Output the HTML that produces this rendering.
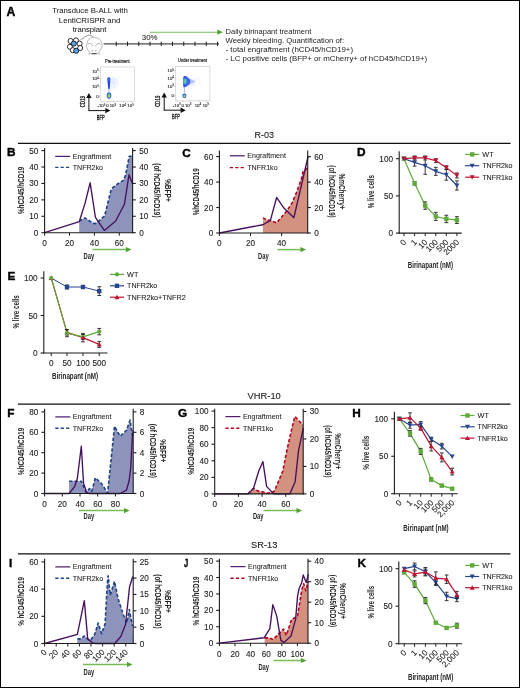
<!DOCTYPE html>
<html><head><meta charset="utf-8"><title>Figure</title>
<style>
html,body{margin:0;padding:0;background:#fff;}
body{width:520px;height:688px;overflow:hidden;}
svg{display:block;font-family:"Liberation Sans", sans-serif;will-change:transform;filter:blur(0.3px);}
</style></head>
<body>
<svg width="520" height="688" viewBox="0 0 520 688">
<rect x="0.5" y="0.5" width="519" height="687" fill="#fff" stroke="#000" stroke-width="1"/>
<text x="6.6" y="15.9" font-size="12.2" fill="#000" stroke="#000" stroke-width="0.4" font-weight="bold">A</text>
<text x="90" y="13" font-size="8" fill="#1c1c1c" stroke="#1c1c1c" stroke-width="0.05" text-anchor="middle" textLength="75.6" lengthAdjust="spacingAndGlyphs">Transduce B-ALL with</text>
<text x="89.6" y="22.7" font-size="8" fill="#1c1c1c" stroke="#1c1c1c" stroke-width="0.05" text-anchor="middle" textLength="61.5" lengthAdjust="spacingAndGlyphs">LentiCRISPR and</text>
<text x="89.6" y="31.8" font-size="8" fill="#1c1c1c" stroke="#1c1c1c" stroke-width="0.05" text-anchor="middle" textLength="33.8" lengthAdjust="spacingAndGlyphs">transplant</text>
<circle cx="70.6" cy="41" r="2.55" fill="#fff" stroke="#111" stroke-width="0.85"/>
<circle cx="76" cy="40.4" r="2.55" fill="#fff" stroke="#111" stroke-width="0.85"/>
<circle cx="79.6" cy="43.6" r="2.55" fill="#fff" stroke="#111" stroke-width="0.85"/>
<circle cx="69.9" cy="46.8" r="2.55" fill="#fff" stroke="#111" stroke-width="0.85"/>
<circle cx="80.2" cy="48" r="2.55" fill="#fff" stroke="#111" stroke-width="0.85"/>
<circle cx="72.8" cy="50.2" r="2.55" fill="#fff" stroke="#111" stroke-width="0.85"/>
<circle cx="73.8" cy="43.6" r="2.55" fill="#5aa0ea" stroke="#111" stroke-width="0.85"/>
<circle cx="76.2" cy="50.8" r="2.55" fill="#5aa0ea" stroke="#111" stroke-width="0.85"/>
<path d="M80.5,39.6 C83.2,39.2 85.2,35.6 88.6,35.2 C90.6,35.0 92.0,35.7 93.4,37.4" fill="none" stroke="#777" stroke-width="0.8"/>
<path d="M91.5,54 C89.6,53 88.1,51 87.3,48.6 C86.2,47.8 86.0,45 87.0,43.5 C87.5,39.5 90.5,37.2 94.2,37.2 C98,37.2 101,39.5 101.5,43 C102.5,44.5 102.3,47.5 101.2,48.6 C100.4,51 98.8,53 97,54 Z" fill="#fff" stroke="#8a8a8a" stroke-width="0.6"/>
<path d="M87.6,44.6 Q90.2,41.4 93,46.4" fill="none" stroke="#a8a8a8" stroke-width="0.9"/>
<path d="M95.3,46.4 Q98.2,41.4 100.6,44.6" fill="none" stroke="#a8a8a8" stroke-width="0.9"/>
<circle cx="92.3" cy="50.7" r="0.55" fill="#555"/><circle cx="95.9" cy="50.7" r="0.55" fill="#555"/>
<path d="M91.8,53.6 L96.6,53.6" stroke="#333" stroke-width="0.9"/>
<path d="M89.6,53 L89,55 M98.8,53 L99.4,55" stroke="#bbb" stroke-width="1.1"/>
<line x1="103.6" y1="43.8" x2="219" y2="43.8" stroke="#4a4a4a" stroke-width="1.3"/>
<line x1="116.25" y1="41.6" x2="116.25" y2="46" stroke="#222" stroke-width="1"/>
<line x1="127.5" y1="41.6" x2="127.5" y2="46" stroke="#222" stroke-width="1"/>
<line x1="138.75" y1="41.6" x2="138.75" y2="46" stroke="#222" stroke-width="1"/>
<line x1="150" y1="41.6" x2="150" y2="46" stroke="#222" stroke-width="1"/>
<line x1="161.25" y1="41.6" x2="161.25" y2="46" stroke="#222" stroke-width="1"/>
<line x1="172.5" y1="41.6" x2="172.5" y2="46" stroke="#222" stroke-width="1"/>
<line x1="183.75" y1="41.6" x2="183.75" y2="46" stroke="#222" stroke-width="1"/>
<line x1="195" y1="41.6" x2="195" y2="46" stroke="#222" stroke-width="1"/>
<line x1="206.25" y1="41.6" x2="206.25" y2="46" stroke="#222" stroke-width="1"/>
<line x1="217.5" y1="41.6" x2="217.5" y2="46" stroke="#222" stroke-width="1"/>
<line x1="150" y1="32.2" x2="218.8" y2="32.2" stroke="#78bd58" stroke-width="1.1"/>
<polygon points="217.3,29.6 222.8,32.2 217.3,34.8" fill="#519f30" stroke="none"/>
<text x="149.7" y="40.3" font-size="7.9" fill="#1c1c1c" stroke="#1c1c1c" stroke-width="0.05" text-anchor="middle" textLength="15.8" lengthAdjust="spacingAndGlyphs">30%</text>
<text x="225.5" y="34" font-size="7.6" fill="#1c1c1c" textLength="85.8" lengthAdjust="spacingAndGlyphs">Daily birinapant treatment</text>
<text x="225.5" y="42.7" font-size="7.6" fill="#1c1c1c" textLength="118.6" lengthAdjust="spacingAndGlyphs">Weekly bleeding. Quantification of:</text>
<text x="225.5" y="51.7" font-size="7.6" fill="#1c1c1c" textLength="127.6" lengthAdjust="spacingAndGlyphs">- total engraftment (hCD45/hCD19+)</text>
<text x="225.5" y="60.9" font-size="7.6" fill="#1c1c1c" textLength="201.7" lengthAdjust="spacingAndGlyphs">- LC positive cells (BFP+ or mCherry+ of hCD45/hCD19+)</text>
<rect x="100.3" y="67" width="34.3" height="34.2" fill="#fff" stroke="#cfcfcf" stroke-width="0.7"/>
<text x="117.3" y="62.5" font-size="4.5" fill="#111" stroke="#111" stroke-width="0.15" text-anchor="middle" textLength="24.6" lengthAdjust="spacingAndGlyphs">Pre-treatment</text>
<line x1="99" y1="71" x2="100.3" y2="71" stroke="#777" stroke-width="0.4"/>
<text x="98.7" y="72.6" font-size="4.3" fill="#111" stroke="#111" stroke-width="0.08" text-anchor="end">10<tspan font-size="3.0" dy="-1.6">5</tspan></text>
<line x1="99" y1="78.6" x2="100.3" y2="78.6" stroke="#777" stroke-width="0.4"/>
<text x="98.7" y="80.2" font-size="4.3" fill="#111" stroke="#111" stroke-width="0.08" text-anchor="end">10<tspan font-size="3.0" dy="-1.6">4</tspan></text>
<line x1="99" y1="86.8" x2="100.3" y2="86.8" stroke="#777" stroke-width="0.4"/>
<text x="98.7" y="88.4" font-size="4.3" fill="#111" stroke="#111" stroke-width="0.08" text-anchor="end">10<tspan font-size="3.0" dy="-1.6">3</tspan></text>
<line x1="99" y1="96.2" x2="100.3" y2="96.2" stroke="#777" stroke-width="0.4"/>
<text x="98.7" y="97.8" font-size="4.3" fill="#111" stroke="#111" stroke-width="0.08" text-anchor="end">0</text>
<line x1="102" y1="101.2" x2="102" y2="102.4" stroke="#777" stroke-width="0.4"/>
<text x="101.5" y="107.4" font-size="4.3" fill="#111" stroke="#111" stroke-width="0.08" text-anchor="middle">-10<tspan font-size="3.0" dy="-1.6">3</tspan></text>
<line x1="107.8" y1="101.2" x2="107.8" y2="102.4" stroke="#777" stroke-width="0.4"/>
<text x="107.5" y="107.4" font-size="4.3" fill="#111" stroke="#111" stroke-width="0.08" text-anchor="middle">0</text>
<line x1="113.6" y1="101.2" x2="113.6" y2="102.4" stroke="#777" stroke-width="0.4"/>
<text x="112.9" y="107.4" font-size="4.3" fill="#111" stroke="#111" stroke-width="0.08" text-anchor="middle">10<tspan font-size="3.0" dy="-1.6">3</tspan></text>
<line x1="123.7" y1="101.2" x2="123.7" y2="102.4" stroke="#777" stroke-width="0.4"/>
<text x="122.6" y="107.4" font-size="4.3" fill="#111" stroke="#111" stroke-width="0.08" text-anchor="middle">10<tspan font-size="3.0" dy="-1.6">4</tspan></text>
<line x1="131.3" y1="101.2" x2="131.3" y2="102.4" stroke="#777" stroke-width="0.4"/>
<text x="130.6" y="107.4" font-size="4.3" fill="#111" stroke="#111" stroke-width="0.08" text-anchor="middle">10<tspan font-size="3.0" dy="-1.6">5</tspan></text>
<line x1="88.9" y1="110.6" x2="88.9" y2="96.5" stroke="#111" stroke-width="1"/>
<polygon points="86.2,98 88.9,93 91.6,98" fill="#111" stroke="none"/>
<line x1="88.4" y1="110.6" x2="105.8" y2="110.6" stroke="#111" stroke-width="1"/>
<polygon points="105.3,107.9 110.5,110.6 105.3,113.3" fill="#111" stroke="none"/>
<text transform="translate(84.9,101.6) rotate(-90)" font-size="6.4" fill="#111" stroke="#111" stroke-width="0.3" text-anchor="middle" textLength="11.2" lengthAdjust="spacingAndGlyphs">CD19</text>
<text x="100.7" y="119.6" font-size="6.4" fill="#111" stroke="#111" stroke-width="0.3" text-anchor="middle" textLength="7.8" lengthAdjust="spacingAndGlyphs">BFP</text>
<rect x="175.6" y="66.6" width="34.3" height="34.2" fill="#fff" stroke="#cfcfcf" stroke-width="0.7"/>
<text x="192.6" y="62.1" font-size="4.5" fill="#111" stroke="#111" stroke-width="0.15" text-anchor="middle" textLength="29" lengthAdjust="spacingAndGlyphs">Under treatment</text>
<line x1="174.3" y1="70.6" x2="175.6" y2="70.6" stroke="#777" stroke-width="0.4"/>
<text x="174" y="72.2" font-size="4.3" fill="#111" stroke="#111" stroke-width="0.08" text-anchor="end">10<tspan font-size="3.0" dy="-1.6">5</tspan></text>
<line x1="174.3" y1="78.2" x2="175.6" y2="78.2" stroke="#777" stroke-width="0.4"/>
<text x="174" y="79.8" font-size="4.3" fill="#111" stroke="#111" stroke-width="0.08" text-anchor="end">10<tspan font-size="3.0" dy="-1.6">4</tspan></text>
<line x1="174.3" y1="86.4" x2="175.6" y2="86.4" stroke="#777" stroke-width="0.4"/>
<text x="174" y="88" font-size="4.3" fill="#111" stroke="#111" stroke-width="0.08" text-anchor="end">10<tspan font-size="3.0" dy="-1.6">3</tspan></text>
<line x1="174.3" y1="95.8" x2="175.6" y2="95.8" stroke="#777" stroke-width="0.4"/>
<text x="174" y="97.4" font-size="4.3" fill="#111" stroke="#111" stroke-width="0.08" text-anchor="end">0</text>
<line x1="177.3" y1="100.8" x2="177.3" y2="102" stroke="#777" stroke-width="0.4"/>
<text x="176.8" y="107" font-size="4.3" fill="#111" stroke="#111" stroke-width="0.08" text-anchor="middle">-10<tspan font-size="3.0" dy="-1.6">3</tspan></text>
<line x1="183.1" y1="100.8" x2="183.1" y2="102" stroke="#777" stroke-width="0.4"/>
<text x="182.8" y="107" font-size="4.3" fill="#111" stroke="#111" stroke-width="0.08" text-anchor="middle">0</text>
<line x1="188.9" y1="100.8" x2="188.9" y2="102" stroke="#777" stroke-width="0.4"/>
<text x="188.2" y="107" font-size="4.3" fill="#111" stroke="#111" stroke-width="0.08" text-anchor="middle">10<tspan font-size="3.0" dy="-1.6">3</tspan></text>
<line x1="199" y1="100.8" x2="199" y2="102" stroke="#777" stroke-width="0.4"/>
<text x="197.9" y="107" font-size="4.3" fill="#111" stroke="#111" stroke-width="0.08" text-anchor="middle">10<tspan font-size="3.0" dy="-1.6">4</tspan></text>
<line x1="206.6" y1="100.8" x2="206.6" y2="102" stroke="#777" stroke-width="0.4"/>
<text x="205.9" y="107" font-size="4.3" fill="#111" stroke="#111" stroke-width="0.08" text-anchor="middle">10<tspan font-size="3.0" dy="-1.6">5</tspan></text>
<line x1="164.2" y1="110.2" x2="164.2" y2="96.1" stroke="#111" stroke-width="1"/>
<polygon points="161.5,97.6 164.2,92.6 166.9,97.6" fill="#111" stroke="none"/>
<line x1="163.7" y1="110.2" x2="181.1" y2="110.2" stroke="#111" stroke-width="1"/>
<polygon points="180.6,107.5 185.8,110.2 180.6,112.9" fill="#111" stroke="none"/>
<text transform="translate(160.2,101.2) rotate(-90)" font-size="6.4" fill="#111" stroke="#111" stroke-width="0.3" text-anchor="middle" textLength="11.2" lengthAdjust="spacingAndGlyphs">CD19</text>
<text x="176" y="119.2" font-size="6.4" fill="#111" stroke="#111" stroke-width="0.3" text-anchor="middle" textLength="7.8" lengthAdjust="spacingAndGlyphs">BFP</text>
<defs><radialGradient id="gB"><stop offset="0" stop-color="#2f5cff"/><stop offset="0.55" stop-color="#3d66ff" stop-opacity="0.85"/><stop offset="1" stop-color="#5b7dff" stop-opacity="0"/></radialGradient><radialGradient id="gS"><stop offset="0" stop-color="#8ea4ff" stop-opacity="0.55"/><stop offset="1" stop-color="#c8d4ff" stop-opacity="0"/></radialGradient><radialGradient id="gY"><stop offset="0" stop-color="#e8d820"/><stop offset="0.35" stop-color="#7cd060"/><stop offset="0.7" stop-color="#2f8cc8" stop-opacity="0.9"/><stop offset="1" stop-color="#3050ff" stop-opacity="0"/></radialGradient><radialGradient id="gG2"><stop offset="0" stop-color="#8ee070"/><stop offset="0.45" stop-color="#4ec0a0"/><stop offset="1" stop-color="#3b66ff" stop-opacity="0"/></radialGradient><filter id="bl" x="-50%" y="-50%" width="200%" height="200%"><feGaussianBlur stdDeviation="0.5"/></filter></defs>
<g filter="url(#bl)">
<circle cx="114.32" cy="87.23" r="0.45" fill="#5a78ff" opacity="0.18"/>
<circle cx="110.88" cy="86.33" r="0.45" fill="#5a78ff" opacity="0.18"/>
<circle cx="113.32" cy="82.31" r="0.45" fill="#5a78ff" opacity="0.18"/>
<circle cx="119.72" cy="83.47" r="0.45" fill="#5a78ff" opacity="0.18"/>
<circle cx="113.86" cy="85.35" r="0.45" fill="#5a78ff" opacity="0.18"/>
<circle cx="117.83" cy="82.89" r="0.45" fill="#5a78ff" opacity="0.18"/>
<circle cx="116" cy="79.69" r="0.45" fill="#5a78ff" opacity="0.18"/>
<circle cx="112.89" cy="81.68" r="0.45" fill="#5a78ff" opacity="0.18"/>
<circle cx="110.1" cy="78.59" r="0.45" fill="#5a78ff" opacity="0.18"/>
<circle cx="108.78" cy="82.24" r="0.45" fill="#5a78ff" opacity="0.18"/>
<circle cx="113.55" cy="82.16" r="0.45" fill="#5a78ff" opacity="0.18"/>
<circle cx="114.23" cy="78.51" r="0.45" fill="#5a78ff" opacity="0.18"/>
<circle cx="113.82" cy="83.54" r="0.45" fill="#5a78ff" opacity="0.18"/>
<circle cx="116.55" cy="80.12" r="0.45" fill="#5a78ff" opacity="0.18"/>
<circle cx="112.84" cy="77.18" r="0.45" fill="#5a78ff" opacity="0.18"/>
<circle cx="112.63" cy="77.02" r="0.45" fill="#5a78ff" opacity="0.18"/>
<circle cx="109.6" cy="86.41" r="0.45" fill="#5a78ff" opacity="0.18"/>
<circle cx="108.17" cy="85.12" r="0.45" fill="#5a78ff" opacity="0.18"/>
<circle cx="114.92" cy="82.12" r="0.45" fill="#5a78ff" opacity="0.18"/>
<circle cx="115.46" cy="84.68" r="0.45" fill="#5a78ff" opacity="0.18"/>
<circle cx="117.55" cy="82.22" r="0.45" fill="#5a78ff" opacity="0.18"/>
<circle cx="112.04" cy="81" r="0.45" fill="#5a78ff" opacity="0.18"/>
<circle cx="110.67" cy="82.85" r="0.45" fill="#5a78ff" opacity="0.18"/>
<circle cx="111.35" cy="86.6" r="0.45" fill="#5a78ff" opacity="0.18"/>
<circle cx="108.77" cy="79.94" r="0.45" fill="#5a78ff" opacity="0.18"/>
<circle cx="111.44" cy="77.38" r="0.45" fill="#5a78ff" opacity="0.18"/>
<circle cx="118" cy="77.93" r="0.45" fill="#5a78ff" opacity="0.18"/>
<circle cx="113.13" cy="81.39" r="0.45" fill="#5a78ff" opacity="0.18"/>
<circle cx="118.06" cy="78.13" r="0.45" fill="#5a78ff" opacity="0.18"/>
<circle cx="117.62" cy="80.53" r="0.45" fill="#5a78ff" opacity="0.18"/>
<circle cx="113.51" cy="80.87" r="0.45" fill="#5a78ff" opacity="0.18"/>
<circle cx="116.16" cy="79.16" r="0.45" fill="#5a78ff" opacity="0.18"/>
<circle cx="113.79" cy="83.92" r="0.45" fill="#5a78ff" opacity="0.18"/>
<circle cx="117.92" cy="77.87" r="0.45" fill="#5a78ff" opacity="0.18"/>
<circle cx="118.72" cy="85.94" r="0.45" fill="#5a78ff" opacity="0.18"/>
<circle cx="112.54" cy="83.92" r="0.45" fill="#5a78ff" opacity="0.18"/>
<circle cx="112.53" cy="88.2" r="0.45" fill="#5a78ff" opacity="0.18"/>
<circle cx="114.51" cy="82.47" r="0.45" fill="#5a78ff" opacity="0.18"/>
<circle cx="113.44" cy="82.51" r="0.45" fill="#5a78ff" opacity="0.18"/>
<circle cx="113.41" cy="80.06" r="0.45" fill="#5a78ff" opacity="0.18"/>
<ellipse cx="113" cy="83" rx="5" ry="5.5" fill="#8ea4ff" opacity="0.12"/>
<path d="M107.2,79 C107.2,76.8 110.4,76.8 110.4,79 L109.8,88.5 C109.6,89.4 108.4,89.4 108.2,88.5 Z" fill="#2846f2"/>
<ellipse cx="108.9" cy="79.5" rx="0.7" ry="1.8" fill="#3aa0f0" opacity="0.7"/>
<rect x="108.5" y="88" width="0.9" height="5" fill="#6680ff" opacity="0.6"/>
<ellipse cx="109" cy="95.6" rx="2.3" ry="3.1" fill="#2a50f0"/>
<ellipse cx="109" cy="95.8" rx="1.6" ry="2.2" fill="#40c8a0"/>
<ellipse cx="109" cy="95.9" rx="0.9" ry="1.2" fill="#d8d020"/>
</g>
<g filter="url(#bl)">
<circle cx="198.51" cy="77.3" r="0.45" fill="#5a78ff" opacity="0.18"/>
<circle cx="183.01" cy="81.76" r="0.45" fill="#5a78ff" opacity="0.18"/>
<circle cx="191.45" cy="83.08" r="0.45" fill="#5a78ff" opacity="0.18"/>
<circle cx="191.35" cy="81.64" r="0.45" fill="#5a78ff" opacity="0.18"/>
<circle cx="193.56" cy="85.53" r="0.45" fill="#5a78ff" opacity="0.18"/>
<circle cx="190.11" cy="80.78" r="0.45" fill="#5a78ff" opacity="0.18"/>
<circle cx="199.86" cy="83.67" r="0.45" fill="#5a78ff" opacity="0.18"/>
<circle cx="188.59" cy="88.26" r="0.45" fill="#5a78ff" opacity="0.18"/>
<circle cx="195.63" cy="79.86" r="0.45" fill="#5a78ff" opacity="0.18"/>
<circle cx="186.48" cy="83.09" r="0.45" fill="#5a78ff" opacity="0.18"/>
<circle cx="188.13" cy="78.17" r="0.45" fill="#5a78ff" opacity="0.18"/>
<circle cx="186" cy="80.18" r="0.45" fill="#5a78ff" opacity="0.18"/>
<circle cx="197.21" cy="80.41" r="0.45" fill="#5a78ff" opacity="0.18"/>
<circle cx="185.51" cy="84.33" r="0.45" fill="#5a78ff" opacity="0.18"/>
<circle cx="192.3" cy="85.01" r="0.45" fill="#5a78ff" opacity="0.18"/>
<circle cx="197.65" cy="81.38" r="0.45" fill="#5a78ff" opacity="0.18"/>
<circle cx="191.62" cy="81.91" r="0.45" fill="#5a78ff" opacity="0.18"/>
<circle cx="186.71" cy="84.43" r="0.45" fill="#5a78ff" opacity="0.18"/>
<circle cx="198.36" cy="82.63" r="0.45" fill="#5a78ff" opacity="0.18"/>
<circle cx="191.15" cy="81.28" r="0.45" fill="#5a78ff" opacity="0.18"/>
<circle cx="188.32" cy="79.06" r="0.45" fill="#5a78ff" opacity="0.18"/>
<circle cx="190.13" cy="78.95" r="0.45" fill="#5a78ff" opacity="0.18"/>
<circle cx="190.05" cy="76.55" r="0.45" fill="#5a78ff" opacity="0.18"/>
<circle cx="193.25" cy="82.14" r="0.45" fill="#5a78ff" opacity="0.18"/>
<circle cx="188.07" cy="75.9" r="0.45" fill="#5a78ff" opacity="0.18"/>
<circle cx="191.96" cy="86.04" r="0.45" fill="#5a78ff" opacity="0.18"/>
<circle cx="188.61" cy="80.27" r="0.45" fill="#5a78ff" opacity="0.18"/>
<circle cx="189.38" cy="84.34" r="0.45" fill="#5a78ff" opacity="0.18"/>
<circle cx="187.74" cy="85.57" r="0.45" fill="#5a78ff" opacity="0.18"/>
<circle cx="190.58" cy="85.36" r="0.45" fill="#5a78ff" opacity="0.18"/>
<circle cx="192.1" cy="81.45" r="0.45" fill="#5a78ff" opacity="0.18"/>
<circle cx="185.42" cy="79.62" r="0.45" fill="#5a78ff" opacity="0.18"/>
<circle cx="190.84" cy="84.27" r="0.45" fill="#5a78ff" opacity="0.18"/>
<circle cx="193.09" cy="79.58" r="0.45" fill="#5a78ff" opacity="0.18"/>
<circle cx="193.93" cy="85.61" r="0.45" fill="#5a78ff" opacity="0.18"/>
<circle cx="191.42" cy="80.66" r="0.45" fill="#5a78ff" opacity="0.18"/>
<circle cx="190.18" cy="84.92" r="0.45" fill="#5a78ff" opacity="0.18"/>
<circle cx="194.53" cy="78.6" r="0.45" fill="#5a78ff" opacity="0.18"/>
<circle cx="193.6" cy="80.41" r="0.45" fill="#5a78ff" opacity="0.18"/>
<circle cx="188.55" cy="86.43" r="0.45" fill="#5a78ff" opacity="0.18"/>
<circle cx="195.86" cy="79.35" r="0.45" fill="#5a78ff" opacity="0.18"/>
<circle cx="192.32" cy="83.58" r="0.45" fill="#5a78ff" opacity="0.18"/>
<circle cx="189.23" cy="81.59" r="0.45" fill="#5a78ff" opacity="0.18"/>
<circle cx="194.78" cy="76.2" r="0.45" fill="#5a78ff" opacity="0.18"/>
<circle cx="193.49" cy="84.62" r="0.45" fill="#5a78ff" opacity="0.18"/>
<circle cx="194.32" cy="77.2" r="0.45" fill="#5a78ff" opacity="0.18"/>
<circle cx="193.48" cy="78.88" r="0.45" fill="#5a78ff" opacity="0.18"/>
<circle cx="194.61" cy="84.15" r="0.45" fill="#5a78ff" opacity="0.18"/>
<circle cx="192.98" cy="79.3" r="0.45" fill="#5a78ff" opacity="0.18"/>
<circle cx="189.22" cy="85.12" r="0.45" fill="#5a78ff" opacity="0.18"/>
<circle cx="187.78" cy="83.81" r="0.45" fill="#5a78ff" opacity="0.18"/>
<circle cx="194.15" cy="81.09" r="0.45" fill="#5a78ff" opacity="0.18"/>
<circle cx="200.64" cy="82.2" r="0.45" fill="#5a78ff" opacity="0.18"/>
<circle cx="198.5" cy="77.25" r="0.45" fill="#5a78ff" opacity="0.18"/>
<circle cx="184.04" cy="84.71" r="0.45" fill="#5a78ff" opacity="0.18"/>
<circle cx="194.82" cy="80.92" r="0.45" fill="#5a78ff" opacity="0.18"/>
<circle cx="191.78" cy="75.82" r="0.45" fill="#5a78ff" opacity="0.18"/>
<circle cx="189.04" cy="78.22" r="0.45" fill="#5a78ff" opacity="0.18"/>
<circle cx="190.97" cy="85.2" r="0.45" fill="#5a78ff" opacity="0.18"/>
<circle cx="192.19" cy="83.06" r="0.45" fill="#5a78ff" opacity="0.18"/>
<circle cx="188.81" cy="80.46" r="0.45" fill="#5a78ff" opacity="0.18"/>
<circle cx="192.38" cy="81.26" r="0.45" fill="#5a78ff" opacity="0.18"/>
<circle cx="197.73" cy="78.91" r="0.45" fill="#5a78ff" opacity="0.18"/>
<circle cx="199.4" cy="79.01" r="0.45" fill="#5a78ff" opacity="0.18"/>
<circle cx="196.95" cy="79.19" r="0.45" fill="#5a78ff" opacity="0.18"/>
<circle cx="199.3" cy="82.47" r="0.45" fill="#5a78ff" opacity="0.18"/>
<circle cx="193.83" cy="84.66" r="0.45" fill="#5a78ff" opacity="0.18"/>
<circle cx="189.02" cy="78.19" r="0.45" fill="#5a78ff" opacity="0.18"/>
<circle cx="184.62" cy="85.46" r="0.45" fill="#5a78ff" opacity="0.18"/>
<circle cx="188.77" cy="79.86" r="0.45" fill="#5a78ff" opacity="0.18"/>
<circle cx="191.87" cy="88.31" r="0.45" fill="#5a78ff" opacity="0.18"/>
<circle cx="184.5" cy="82.84" r="0.45" fill="#5a78ff" opacity="0.18"/>
<circle cx="190.27" cy="83.8" r="0.45" fill="#5a78ff" opacity="0.18"/>
<circle cx="184.37" cy="80.69" r="0.45" fill="#5a78ff" opacity="0.18"/>
<circle cx="195.63" cy="87.23" r="0.45" fill="#5a78ff" opacity="0.18"/>
<circle cx="198.82" cy="79.16" r="0.45" fill="#5a78ff" opacity="0.18"/>
<circle cx="192.13" cy="81.8" r="0.45" fill="#5a78ff" opacity="0.18"/>
<circle cx="186.39" cy="77.44" r="0.45" fill="#5a78ff" opacity="0.18"/>
<circle cx="195.44" cy="82.87" r="0.45" fill="#5a78ff" opacity="0.18"/>
<circle cx="191.33" cy="86.44" r="0.45" fill="#5a78ff" opacity="0.18"/>
<circle cx="187.28" cy="83.93" r="0.45" fill="#5a78ff" opacity="0.18"/>
<circle cx="192.02" cy="81.92" r="0.45" fill="#5a78ff" opacity="0.18"/>
<circle cx="194" cy="82.56" r="0.45" fill="#5a78ff" opacity="0.18"/>
<circle cx="192.98" cy="82.76" r="0.45" fill="#5a78ff" opacity="0.18"/>
<circle cx="199.96" cy="81.01" r="0.45" fill="#5a78ff" opacity="0.18"/>
<circle cx="196.76" cy="84.23" r="0.45" fill="#5a78ff" opacity="0.18"/>
<circle cx="190.39" cy="84.85" r="0.45" fill="#5a78ff" opacity="0.18"/>
<circle cx="188.06" cy="86.15" r="0.45" fill="#5a78ff" opacity="0.18"/>
<circle cx="188.23" cy="80.22" r="0.45" fill="#5a78ff" opacity="0.18"/>
<circle cx="193.49" cy="85" r="0.45" fill="#5a78ff" opacity="0.18"/>
<path d="M183.2,78 C183.2,75.6 185.5,75.4 187.5,77.2 C189,78.6 190.4,80 190.4,81.5 C190.4,83.5 188.4,85.4 186.4,86.6 C184.6,87.8 183.2,87.6 183.2,85.4 Z" fill="#2e50f4"/>
<path d="M186,76.5 L196,81.5 L186,86.5 Z" fill="#5870ff" opacity="0.35"/>
<ellipse cx="185.1" cy="81.3" rx="1.2" ry="2.4" fill="#7ce070"/>
<ellipse cx="185.3" cy="81.3" rx="1.9" ry="3.4" fill="#40c0b0" opacity="0.6"/>
<rect x="183.9" y="87" width="0.9" height="6" fill="#5a78ff" opacity="0.6"/>
<ellipse cx="184.4" cy="95.8" rx="2.1" ry="2.4" fill="#2a50f0"/>
<ellipse cx="184.4" cy="96" rx="1.4" ry="1.6" fill="#50c890"/>
<ellipse cx="184.4" cy="96.1" rx="0.8" ry="0.9" fill="#e0d020"/>
</g>
<line x1="18" y1="143.4" x2="510.5" y2="143.4" stroke="#111" stroke-width="1.2"/>
<text x="264.2" y="137.95" font-size="9.9" fill="#1a1a1a" stroke="#1a1a1a" stroke-width="0.1" text-anchor="middle" textLength="19.5" lengthAdjust="spacingAndGlyphs">R-03</text>
<line x1="18" y1="404.2" x2="510.5" y2="404.2" stroke="#111" stroke-width="1.2"/>
<text x="264.2" y="398.75" font-size="9.9" fill="#1a1a1a" stroke="#1a1a1a" stroke-width="0.1" text-anchor="middle" textLength="33.2" lengthAdjust="spacingAndGlyphs">VHR-10</text>
<line x1="18" y1="553.9" x2="510.5" y2="553.9" stroke="#111" stroke-width="1.2"/>
<text x="264.2" y="548.45" font-size="9.9" fill="#1a1a1a" stroke="#1a1a1a" stroke-width="0.1" text-anchor="middle" textLength="26.3" lengthAdjust="spacingAndGlyphs">SR-13</text>
<text x="6.9" y="156.2" font-size="11.8" fill="#000" stroke="#000" stroke-width="0.4" font-weight="bold">B</text>
<polygon points="79.21,232.7 79.21,221.04 84.94,217.92 90.42,221.53 94.77,223.83 99.63,220.38 104.61,215.95 110.83,190.66 112.7,187.71 117.56,183.93 123.78,180.16 125.65,174.74 129.26,156.18 132.37,156.18 132.6,232.7" fill="#8d93bb" stroke="none"/>
<polyline points="79.21,221.04 84.94,217.92 90.42,221.53 94.77,223.83 99.63,220.38 104.61,215.95 110.83,190.66 112.7,187.71 117.56,183.93 123.78,180.16 125.65,174.74 129.26,156.18 132.37,156.18" fill="none" stroke="#1d4383" stroke-width="1.6" stroke-linejoin="round" stroke-dasharray="3.4,2.0"/>
<polyline points="44.6,232.7 79.34,221.53 85.06,203.14 90.17,182.78 95.4,217.27 104.36,230.4 115.69,221.04 124.4,204.29 129.01,174.74 132.37,183.44" fill="none" stroke="#47105f" stroke-width="1.35" stroke-linejoin="round"/>
<line x1="44.6" y1="148.1" x2="44.6" y2="233.2" stroke="#1c1c1c" stroke-width="1.1"/>
<line x1="132.6" y1="148.1" x2="132.6" y2="233.2" stroke="#1c1c1c" stroke-width="1.1"/>
<line x1="44.1" y1="232.7" x2="133.1" y2="232.7" stroke="#1c1c1c" stroke-width="1.1"/>
<line x1="41.4" y1="232.7" x2="44.6" y2="232.7" stroke="#1c1c1c" stroke-width="1.1"/>
<text x="38.4" y="235.7" font-size="8.2" fill="#1c1c1c" stroke="#1c1c1c" stroke-width="0.1" text-anchor="end">0</text>
<line x1="41.4" y1="216.28" x2="44.6" y2="216.28" stroke="#1c1c1c" stroke-width="1.1"/>
<text x="38.4" y="219.28" font-size="8.2" fill="#1c1c1c" stroke="#1c1c1c" stroke-width="0.1" text-anchor="end">10</text>
<line x1="41.4" y1="199.86" x2="44.6" y2="199.86" stroke="#1c1c1c" stroke-width="1.1"/>
<text x="38.4" y="202.86" font-size="8.2" fill="#1c1c1c" stroke="#1c1c1c" stroke-width="0.1" text-anchor="end">20</text>
<line x1="41.4" y1="183.44" x2="44.6" y2="183.44" stroke="#1c1c1c" stroke-width="1.1"/>
<text x="38.4" y="186.44" font-size="8.2" fill="#1c1c1c" stroke="#1c1c1c" stroke-width="0.1" text-anchor="end">30</text>
<line x1="41.4" y1="167.02" x2="44.6" y2="167.02" stroke="#1c1c1c" stroke-width="1.1"/>
<text x="38.4" y="170.02" font-size="8.2" fill="#1c1c1c" stroke="#1c1c1c" stroke-width="0.1" text-anchor="end">40</text>
<line x1="41.4" y1="150.6" x2="44.6" y2="150.6" stroke="#1c1c1c" stroke-width="1.1"/>
<text x="38.4" y="153.6" font-size="8.2" fill="#1c1c1c" stroke="#1c1c1c" stroke-width="0.1" text-anchor="end">50</text>
<line x1="132.6" y1="232.7" x2="135.8" y2="232.7" stroke="#1c1c1c" stroke-width="1.1"/>
<text x="139.2" y="235.7" font-size="8.2" fill="#1c1c1c" stroke="#1c1c1c" stroke-width="0.1">0</text>
<line x1="132.6" y1="216.28" x2="135.8" y2="216.28" stroke="#1c1c1c" stroke-width="1.1"/>
<text x="139.2" y="219.28" font-size="8.2" fill="#1c1c1c" stroke="#1c1c1c" stroke-width="0.1">10</text>
<line x1="132.6" y1="199.86" x2="135.8" y2="199.86" stroke="#1c1c1c" stroke-width="1.1"/>
<text x="139.2" y="202.86" font-size="8.2" fill="#1c1c1c" stroke="#1c1c1c" stroke-width="0.1">20</text>
<line x1="132.6" y1="183.44" x2="135.8" y2="183.44" stroke="#1c1c1c" stroke-width="1.1"/>
<text x="139.2" y="186.44" font-size="8.2" fill="#1c1c1c" stroke="#1c1c1c" stroke-width="0.1">30</text>
<line x1="132.6" y1="167.02" x2="135.8" y2="167.02" stroke="#1c1c1c" stroke-width="1.1"/>
<text x="139.2" y="170.02" font-size="8.2" fill="#1c1c1c" stroke="#1c1c1c" stroke-width="0.1">40</text>
<line x1="132.6" y1="150.6" x2="135.8" y2="150.6" stroke="#1c1c1c" stroke-width="1.1"/>
<text x="139.2" y="153.6" font-size="8.2" fill="#1c1c1c" stroke="#1c1c1c" stroke-width="0.1">50</text>
<line x1="44.6" y1="232.7" x2="44.6" y2="235.7" stroke="#1c1c1c" stroke-width="1"/>
<text x="44.6" y="246" font-size="8.2" fill="#1c1c1c" stroke="#1c1c1c" stroke-width="0.1" text-anchor="middle">0</text>
<line x1="69.5" y1="232.7" x2="69.5" y2="235.7" stroke="#1c1c1c" stroke-width="1"/>
<text x="69.5" y="246" font-size="8.2" fill="#1c1c1c" stroke="#1c1c1c" stroke-width="0.1" text-anchor="middle">20</text>
<line x1="94.4" y1="232.7" x2="94.4" y2="235.7" stroke="#1c1c1c" stroke-width="1"/>
<text x="94.4" y="246" font-size="8.2" fill="#1c1c1c" stroke="#1c1c1c" stroke-width="0.1" text-anchor="middle">40</text>
<line x1="119.3" y1="232.7" x2="119.3" y2="235.7" stroke="#1c1c1c" stroke-width="1"/>
<text x="119.3" y="246" font-size="8.2" fill="#1c1c1c" stroke="#1c1c1c" stroke-width="0.1" text-anchor="middle">60</text>
<line x1="55.2" y1="156.4" x2="70.2" y2="156.4" stroke="#52206e" stroke-width="1.25"/>
<line x1="55.2" y1="167.4" x2="70.2" y2="167.4" stroke="#1d4383" stroke-width="1.4" stroke-dasharray="3.2,2.2"/>
<text x="72.7" y="158.9" font-size="7.1" fill="#1c1c1c" stroke="#1c1c1c" stroke-width="0.06" textLength="38.6" lengthAdjust="spacingAndGlyphs">Engraftment</text>
<text x="72.7" y="169.9" font-size="7.1" fill="#1c1c1c" stroke="#1c1c1c" stroke-width="0.06" textLength="30.3" lengthAdjust="spacingAndGlyphs">TNFR2ko</text>
<text transform="translate(23.6,190.4) rotate(-90)" font-size="9.6" fill="#262626" text-anchor="middle" font-weight="bold" textLength="47.3" lengthAdjust="spacingAndGlyphs">%hCD45/hCD19</text>
<text transform="translate(164.6,190.4) rotate(90)" font-size="9.6" fill="#262626" text-anchor="middle" font-weight="bold" textLength="23" lengthAdjust="spacingAndGlyphs">%BFP+</text>
<text transform="translate(154.4,190.4) rotate(90)" font-size="9.6" fill="#262626" text-anchor="middle" font-weight="bold" textLength="54.3" lengthAdjust="spacingAndGlyphs">(of hCD45/hCD19)</text>
<text x="88.9" y="258.8" font-size="9.4" fill="#262626" text-anchor="middle" font-weight="bold" textLength="10.6" lengthAdjust="spacingAndGlyphs">Day</text>
<line x1="92.6" y1="249.6" x2="127.4" y2="249.6" stroke="#78bd58" stroke-width="1.5"/>
<polygon points="125.9,247 131.4,249.6 125.9,252.2" fill="#519f30" stroke="none"/>
<text x="182.3" y="156.6" font-size="11.8" fill="#000" stroke="#000" stroke-width="0.4" font-weight="bold">C</text>
<polygon points="262.94,233 262.94,217.85 266.67,219.76 271.03,220.65 276.62,222.82 281.44,217.34 287.04,210.47 292.02,203.08 296.99,191.37 301.35,179.02 303.06,171.64 307.72,167.95 307.7,233" fill="#d3917f" stroke="none"/>
<polyline points="262.94,217.85 266.67,219.76 271.03,220.65 276.62,222.82 281.44,217.34 287.04,210.47 292.02,203.08 296.99,191.37 301.35,179.02 303.06,171.64 307.72,167.95" fill="none" stroke="#b8001f" stroke-width="1.6" stroke-linejoin="round" stroke-dasharray="3.4,2.0"/>
<polyline points="219.4,233 262.94,224.73 270.4,220.4 276.62,197.48 283.93,208.05 293.88,217.72 308.03,156.75" fill="none" stroke="#47105f" stroke-width="1.35" stroke-linejoin="round"/>
<line x1="219.4" y1="150.5" x2="219.4" y2="233.5" stroke="#1c1c1c" stroke-width="1.1"/>
<line x1="307.7" y1="150.5" x2="307.7" y2="233.5" stroke="#1c1c1c" stroke-width="1.1"/>
<line x1="218.9" y1="233" x2="308.2" y2="233" stroke="#1c1c1c" stroke-width="1.1"/>
<line x1="216.2" y1="233" x2="219.4" y2="233" stroke="#1c1c1c" stroke-width="1.1"/>
<text x="213.2" y="236" font-size="8.2" fill="#1c1c1c" stroke="#1c1c1c" stroke-width="0.1" text-anchor="end">0</text>
<line x1="216.2" y1="207.54" x2="219.4" y2="207.54" stroke="#1c1c1c" stroke-width="1.1"/>
<text x="213.2" y="210.54" font-size="8.2" fill="#1c1c1c" stroke="#1c1c1c" stroke-width="0.1" text-anchor="end">20</text>
<line x1="216.2" y1="182.08" x2="219.4" y2="182.08" stroke="#1c1c1c" stroke-width="1.1"/>
<text x="213.2" y="185.08" font-size="8.2" fill="#1c1c1c" stroke="#1c1c1c" stroke-width="0.1" text-anchor="end">40</text>
<line x1="216.2" y1="156.62" x2="219.4" y2="156.62" stroke="#1c1c1c" stroke-width="1.1"/>
<text x="213.2" y="159.62" font-size="8.2" fill="#1c1c1c" stroke="#1c1c1c" stroke-width="0.1" text-anchor="end">60</text>
<line x1="307.7" y1="233" x2="310.9" y2="233" stroke="#1c1c1c" stroke-width="1.1"/>
<text x="314.3" y="236" font-size="8.2" fill="#1c1c1c" stroke="#1c1c1c" stroke-width="0.1">0</text>
<line x1="307.7" y1="207.54" x2="310.9" y2="207.54" stroke="#1c1c1c" stroke-width="1.1"/>
<text x="314.3" y="210.54" font-size="8.2" fill="#1c1c1c" stroke="#1c1c1c" stroke-width="0.1">20</text>
<line x1="307.7" y1="182.08" x2="310.9" y2="182.08" stroke="#1c1c1c" stroke-width="1.1"/>
<text x="314.3" y="185.08" font-size="8.2" fill="#1c1c1c" stroke="#1c1c1c" stroke-width="0.1">40</text>
<line x1="307.7" y1="156.62" x2="310.9" y2="156.62" stroke="#1c1c1c" stroke-width="1.1"/>
<text x="314.3" y="159.62" font-size="8.2" fill="#1c1c1c" stroke="#1c1c1c" stroke-width="0.1">60</text>
<line x1="219.4" y1="233" x2="219.4" y2="236" stroke="#1c1c1c" stroke-width="1"/>
<text x="219.4" y="246.3" font-size="8.2" fill="#1c1c1c" stroke="#1c1c1c" stroke-width="0.1" text-anchor="middle">0</text>
<line x1="250.5" y1="233" x2="250.5" y2="236" stroke="#1c1c1c" stroke-width="1"/>
<text x="250.5" y="246.3" font-size="8.2" fill="#1c1c1c" stroke="#1c1c1c" stroke-width="0.1" text-anchor="middle">20</text>
<line x1="281.6" y1="233" x2="281.6" y2="236" stroke="#1c1c1c" stroke-width="1"/>
<text x="281.6" y="246.3" font-size="8.2" fill="#1c1c1c" stroke="#1c1c1c" stroke-width="0.1" text-anchor="middle">40</text>
<line x1="229.8" y1="155.8" x2="244.8" y2="155.8" stroke="#52206e" stroke-width="1.25"/>
<line x1="229.8" y1="167.6" x2="244.8" y2="167.6" stroke="#b8001f" stroke-width="1.4" stroke-dasharray="3.2,2.2"/>
<text x="247.3" y="158.3" font-size="7.1" fill="#1c1c1c" stroke="#1c1c1c" stroke-width="0.06" textLength="38.6" lengthAdjust="spacingAndGlyphs">Engraftment</text>
<text x="247.3" y="170.1" font-size="7.1" fill="#1c1c1c" stroke="#1c1c1c" stroke-width="0.06" textLength="30.3" lengthAdjust="spacingAndGlyphs">TNFR1ko</text>
<text transform="translate(198.6,191.8) rotate(-90)" font-size="9.6" fill="#262626" text-anchor="middle" font-weight="bold" textLength="47.1" lengthAdjust="spacingAndGlyphs">%hCD45/hCD19</text>
<text transform="translate(339.4,191.5) rotate(90)" font-size="9.6" fill="#262626" text-anchor="middle" font-weight="bold" textLength="36.1" lengthAdjust="spacingAndGlyphs">%mCherry+</text>
<text transform="translate(329.2,191.5) rotate(90)" font-size="9.6" fill="#262626" text-anchor="middle" font-weight="bold" textLength="52.3" lengthAdjust="spacingAndGlyphs">(of hCD45/hCD19)</text>
<text x="263.4" y="258.8" font-size="9.4" fill="#262626" text-anchor="middle" font-weight="bold" textLength="10.6" lengthAdjust="spacingAndGlyphs">Day</text>
<line x1="277.2" y1="249.6" x2="302" y2="249.6" stroke="#78bd58" stroke-width="1.5"/>
<polygon points="300.5,247 306,249.6 300.5,252.2" fill="#519f30" stroke="none"/>
<text x="357.1" y="156" font-size="11.8" fill="#000" stroke="#000" stroke-width="0.4" font-weight="bold">D</text>
<line x1="399.2" y1="151.2" x2="399.2" y2="233.6" stroke="#1c1c1c" stroke-width="1.1"/>
<line x1="398.7" y1="233.1" x2="461.7" y2="233.1" stroke="#1c1c1c" stroke-width="1.1"/>
<line x1="396" y1="233.1" x2="399.2" y2="233.1" stroke="#1c1c1c" stroke-width="1.1"/>
<text x="393" y="236.1" font-size="8.2" fill="#1c1c1c" stroke="#1c1c1c" stroke-width="0.1" text-anchor="end">0</text>
<line x1="396" y1="195.9" x2="399.2" y2="195.9" stroke="#1c1c1c" stroke-width="1.1"/>
<text x="393" y="198.9" font-size="8.2" fill="#1c1c1c" stroke="#1c1c1c" stroke-width="0.1" text-anchor="end">50</text>
<line x1="396" y1="158.7" x2="399.2" y2="158.7" stroke="#1c1c1c" stroke-width="1.1"/>
<text x="393" y="161.7" font-size="8.2" fill="#1c1c1c" stroke="#1c1c1c" stroke-width="0.1" text-anchor="end">100</text>
<line x1="404" y1="233.1" x2="404" y2="236.1" stroke="#1c1c1c" stroke-width="1"/>
<text transform="translate(406.8,242.7) rotate(-45)" font-size="8.2" fill="#1c1c1c" stroke="#1c1c1c" stroke-width="0.1" text-anchor="end">0</text>
<line x1="414.6" y1="233.1" x2="414.6" y2="236.1" stroke="#1c1c1c" stroke-width="1"/>
<text transform="translate(417.4,242.7) rotate(-45)" font-size="8.2" fill="#1c1c1c" stroke="#1c1c1c" stroke-width="0.1" text-anchor="end">1</text>
<line x1="425.2" y1="233.1" x2="425.2" y2="236.1" stroke="#1c1c1c" stroke-width="1"/>
<text transform="translate(428,242.7) rotate(-45)" font-size="8.2" fill="#1c1c1c" stroke="#1c1c1c" stroke-width="0.1" text-anchor="end">10</text>
<line x1="435.8" y1="233.1" x2="435.8" y2="236.1" stroke="#1c1c1c" stroke-width="1"/>
<text transform="translate(438.6,242.7) rotate(-45)" font-size="8.2" fill="#1c1c1c" stroke="#1c1c1c" stroke-width="0.1" text-anchor="end">100</text>
<line x1="446.3" y1="233.1" x2="446.3" y2="236.1" stroke="#1c1c1c" stroke-width="1"/>
<text transform="translate(449.1,242.7) rotate(-45)" font-size="8.2" fill="#1c1c1c" stroke="#1c1c1c" stroke-width="0.1" text-anchor="end">500</text>
<line x1="456.9" y1="233.1" x2="456.9" y2="236.1" stroke="#1c1c1c" stroke-width="1"/>
<text transform="translate(459.7,242.7) rotate(-45)" font-size="8.2" fill="#1c1c1c" stroke="#1c1c1c" stroke-width="0.1" text-anchor="end">2000</text>
<polyline points="404,158.7 414.6,183.25 425.2,205.57 435.8,216.36 446.3,218.96 456.9,220.08" fill="none" stroke="#5fab3a" stroke-width="1.2" stroke-linejoin="round"/>
<line x1="414.6" y1="181.45" x2="414.6" y2="185.05" stroke="#222" stroke-width="0.9"/>
<line x1="412.7" y1="181.45" x2="416.5" y2="181.45" stroke="#222" stroke-width="0.9"/>
<line x1="412.7" y1="185.05" x2="416.5" y2="185.05" stroke="#222" stroke-width="0.9"/>
<line x1="425.2" y1="201.87" x2="425.2" y2="209.27" stroke="#222" stroke-width="0.9"/>
<line x1="423.3" y1="201.87" x2="427.1" y2="201.87" stroke="#222" stroke-width="0.9"/>
<line x1="423.3" y1="209.27" x2="427.1" y2="209.27" stroke="#222" stroke-width="0.9"/>
<line x1="435.8" y1="212.36" x2="435.8" y2="220.36" stroke="#222" stroke-width="0.9"/>
<line x1="433.9" y1="212.36" x2="437.7" y2="212.36" stroke="#222" stroke-width="0.9"/>
<line x1="433.9" y1="220.36" x2="437.7" y2="220.36" stroke="#222" stroke-width="0.9"/>
<line x1="446.3" y1="215.26" x2="446.3" y2="222.66" stroke="#222" stroke-width="0.9"/>
<line x1="444.4" y1="215.26" x2="448.2" y2="215.26" stroke="#222" stroke-width="0.9"/>
<line x1="444.4" y1="222.66" x2="448.2" y2="222.66" stroke="#222" stroke-width="0.9"/>
<line x1="456.9" y1="216.68" x2="456.9" y2="223.48" stroke="#222" stroke-width="0.9"/>
<line x1="455" y1="216.68" x2="458.8" y2="216.68" stroke="#222" stroke-width="0.9"/>
<line x1="455" y1="223.48" x2="458.8" y2="223.48" stroke="#222" stroke-width="0.9"/>
<rect x="401.8" y="156.5" width="4.4" height="4.4" fill="#5fab3a"/>
<rect x="412.4" y="181.05" width="4.4" height="4.4" fill="#5fab3a"/>
<rect x="423" y="203.37" width="4.4" height="4.4" fill="#5fab3a"/>
<rect x="433.6" y="214.16" width="4.4" height="4.4" fill="#5fab3a"/>
<rect x="444.1" y="216.76" width="4.4" height="4.4" fill="#5fab3a"/>
<rect x="454.7" y="217.88" width="4.4" height="4.4" fill="#5fab3a"/>
<polyline points="404,158.7 414.6,162.42 425.2,165.77 435.8,171.35 446.3,174.7 456.9,185.48" fill="none" stroke="#28468e" stroke-width="1.2" stroke-linejoin="round"/>
<line x1="414.6" y1="158.72" x2="414.6" y2="166.12" stroke="#222" stroke-width="0.9"/>
<line x1="412.7" y1="158.72" x2="416.5" y2="158.72" stroke="#222" stroke-width="0.9"/>
<line x1="412.7" y1="166.12" x2="416.5" y2="166.12" stroke="#222" stroke-width="0.9"/>
<line x1="425.2" y1="157.27" x2="425.2" y2="174.27" stroke="#222" stroke-width="0.9"/>
<line x1="423.3" y1="157.27" x2="427.1" y2="157.27" stroke="#222" stroke-width="0.9"/>
<line x1="423.3" y1="174.27" x2="427.1" y2="174.27" stroke="#222" stroke-width="0.9"/>
<line x1="435.8" y1="167.35" x2="435.8" y2="175.35" stroke="#222" stroke-width="0.9"/>
<line x1="433.9" y1="167.35" x2="437.7" y2="167.35" stroke="#222" stroke-width="0.9"/>
<line x1="433.9" y1="175.35" x2="437.7" y2="175.35" stroke="#222" stroke-width="0.9"/>
<line x1="446.3" y1="169.2" x2="446.3" y2="180.2" stroke="#222" stroke-width="0.9"/>
<line x1="444.4" y1="169.2" x2="448.2" y2="169.2" stroke="#222" stroke-width="0.9"/>
<line x1="444.4" y1="180.2" x2="448.2" y2="180.2" stroke="#222" stroke-width="0.9"/>
<line x1="456.9" y1="180.88" x2="456.9" y2="190.08" stroke="#222" stroke-width="0.9"/>
<line x1="455" y1="180.88" x2="458.8" y2="180.88" stroke="#222" stroke-width="0.9"/>
<line x1="455" y1="190.08" x2="458.8" y2="190.08" stroke="#222" stroke-width="0.9"/>
<polygon points="401.5,156.7 406.5,156.7 404,161.1" fill="#28468e" stroke="none"/>
<polygon points="412.1,160.42 417.1,160.42 414.6,164.82" fill="#28468e" stroke="none"/>
<polygon points="422.7,163.77 427.7,163.77 425.2,168.17" fill="#28468e" stroke="none"/>
<polygon points="433.3,169.35 438.3,169.35 435.8,173.75" fill="#28468e" stroke="none"/>
<polygon points="443.8,172.7 448.8,172.7 446.3,177.1" fill="#28468e" stroke="none"/>
<polygon points="454.4,183.48 459.4,183.48 456.9,187.88" fill="#28468e" stroke="none"/>
<polyline points="404,158.7 414.6,157.96 425.2,157.96 435.8,160.56 446.3,167.63 456.9,175.44" fill="none" stroke="#bc1434" stroke-width="1.2" stroke-linejoin="round"/>
<line x1="414.6" y1="155.96" x2="414.6" y2="159.96" stroke="#222" stroke-width="0.9"/>
<line x1="412.7" y1="155.96" x2="416.5" y2="155.96" stroke="#222" stroke-width="0.9"/>
<line x1="412.7" y1="159.96" x2="416.5" y2="159.96" stroke="#222" stroke-width="0.9"/>
<line x1="425.2" y1="155.96" x2="425.2" y2="159.96" stroke="#222" stroke-width="0.9"/>
<line x1="423.3" y1="155.96" x2="427.1" y2="155.96" stroke="#222" stroke-width="0.9"/>
<line x1="423.3" y1="159.96" x2="427.1" y2="159.96" stroke="#222" stroke-width="0.9"/>
<line x1="435.8" y1="158.76" x2="435.8" y2="162.36" stroke="#222" stroke-width="0.9"/>
<line x1="433.9" y1="158.76" x2="437.7" y2="158.76" stroke="#222" stroke-width="0.9"/>
<line x1="433.9" y1="162.36" x2="437.7" y2="162.36" stroke="#222" stroke-width="0.9"/>
<line x1="446.3" y1="165.83" x2="446.3" y2="169.43" stroke="#222" stroke-width="0.9"/>
<line x1="444.4" y1="165.83" x2="448.2" y2="165.83" stroke="#222" stroke-width="0.9"/>
<line x1="444.4" y1="169.43" x2="448.2" y2="169.43" stroke="#222" stroke-width="0.9"/>
<line x1="456.9" y1="172.94" x2="456.9" y2="177.94" stroke="#222" stroke-width="0.9"/>
<line x1="455" y1="172.94" x2="458.8" y2="172.94" stroke="#222" stroke-width="0.9"/>
<line x1="455" y1="177.94" x2="458.8" y2="177.94" stroke="#222" stroke-width="0.9"/>
<polygon points="401.5,156.7 406.5,156.7 404,161.1" fill="#bc1434" stroke="none"/>
<polygon points="412.1,155.96 417.1,155.96 414.6,160.36" fill="#bc1434" stroke="none"/>
<polygon points="422.7,155.96 427.7,155.96 425.2,160.36" fill="#bc1434" stroke="none"/>
<polygon points="433.3,158.56 438.3,158.56 435.8,162.96" fill="#bc1434" stroke="none"/>
<polygon points="443.8,165.63 448.8,165.63 446.3,170.03" fill="#bc1434" stroke="none"/>
<polygon points="454.4,173.44 459.4,173.44 456.9,177.84" fill="#bc1434" stroke="none"/>
<line x1="465.2" y1="154.4" x2="479.2" y2="154.4" stroke="#5fab3a" stroke-width="1.2"/>
<rect x="470" y="152.2" width="4.4" height="4.4" fill="#5fab3a"/>
<text x="482.3" y="157" font-size="7.2" fill="#1c1c1c" stroke="#1c1c1c" stroke-width="0.08" textLength="11.3" lengthAdjust="spacingAndGlyphs">WT</text>
<line x1="465.2" y1="165.7" x2="479.2" y2="165.7" stroke="#28468e" stroke-width="1.2"/>
<polygon points="469.7,163.7 474.7,163.7 472.2,168.1" fill="#28468e" stroke="none"/>
<text x="482.3" y="168.3" font-size="7.2" fill="#1c1c1c" stroke="#1c1c1c" stroke-width="0.08" textLength="30.2" lengthAdjust="spacingAndGlyphs">TNFR2ko</text>
<line x1="465.2" y1="177.2" x2="479.2" y2="177.2" stroke="#bc1434" stroke-width="1.2"/>
<polygon points="469.7,175.2 474.7,175.2 472.2,179.6" fill="#bc1434" stroke="none"/>
<text x="482.3" y="179.8" font-size="7.2" fill="#1c1c1c" stroke="#1c1c1c" stroke-width="0.08" textLength="30.2" lengthAdjust="spacingAndGlyphs">TNFR1ko</text>
<text transform="translate(373.8,191.6) rotate(-90)" font-size="9.6" fill="#262626" text-anchor="middle" font-weight="bold" textLength="33.2" lengthAdjust="spacingAndGlyphs">% live cells</text>
<text x="430.4" y="267.5" font-size="9.8" fill="#262626" text-anchor="middle" font-weight="bold" textLength="45.3" lengthAdjust="spacingAndGlyphs">Birinapant (nM)</text>
<text x="7.6" y="280.2" font-size="11.8" fill="#000" stroke="#000" stroke-width="0.4" font-weight="bold">E</text>
<line x1="43.8" y1="271.2" x2="43.8" y2="353.5" stroke="#1c1c1c" stroke-width="1.1"/>
<line x1="43.3" y1="353" x2="107.5" y2="353" stroke="#1c1c1c" stroke-width="1.1"/>
<line x1="40.6" y1="353" x2="43.8" y2="353" stroke="#1c1c1c" stroke-width="1.1"/>
<text x="37.6" y="356" font-size="8.2" fill="#1c1c1c" stroke="#1c1c1c" stroke-width="0.1" text-anchor="end">0</text>
<line x1="40.6" y1="315.5" x2="43.8" y2="315.5" stroke="#1c1c1c" stroke-width="1.1"/>
<text x="37.6" y="318.5" font-size="8.2" fill="#1c1c1c" stroke="#1c1c1c" stroke-width="0.1" text-anchor="end">50</text>
<line x1="40.6" y1="278" x2="43.8" y2="278" stroke="#1c1c1c" stroke-width="1.1"/>
<text x="37.6" y="281" font-size="8.2" fill="#1c1c1c" stroke="#1c1c1c" stroke-width="0.1" text-anchor="end">100</text>
<line x1="51.25" y1="353" x2="51.25" y2="356" stroke="#1c1c1c" stroke-width="1"/>
<text x="51.25" y="366" font-size="8.2" fill="#1c1c1c" stroke="#1c1c1c" stroke-width="0.1" text-anchor="middle">0</text>
<line x1="67" y1="353" x2="67" y2="356" stroke="#1c1c1c" stroke-width="1"/>
<text x="67" y="366" font-size="8.2" fill="#1c1c1c" stroke="#1c1c1c" stroke-width="0.1" text-anchor="middle">50</text>
<line x1="83" y1="353" x2="83" y2="356" stroke="#1c1c1c" stroke-width="1"/>
<text x="83" y="366" font-size="8.2" fill="#1c1c1c" stroke="#1c1c1c" stroke-width="0.1" text-anchor="middle">100</text>
<line x1="99.25" y1="353" x2="99.25" y2="356" stroke="#1c1c1c" stroke-width="1"/>
<text x="99.25" y="366" font-size="8.2" fill="#1c1c1c" stroke="#1c1c1c" stroke-width="0.1" text-anchor="middle">500</text>
<polyline points="51.25,278 67,287 83,287 99.25,291.12" fill="none" stroke="#28468e" stroke-width="1" stroke-linejoin="round"/>
<polyline points="51.25,278 67,332.38 83,337.62 99.25,344.38" fill="none" stroke="#bc1434" stroke-width="1.1" stroke-linejoin="round"/>
<polyline points="51.25,278 67,333.12 83,336.88 99.25,331.62" fill="none" stroke="#5fab3a" stroke-width="1.1" stroke-linejoin="round"/>
<line x1="67" y1="285" x2="67" y2="289" stroke="#222" stroke-width="0.9"/>
<line x1="65.1" y1="285" x2="68.9" y2="285" stroke="#222" stroke-width="0.9"/>
<line x1="65.1" y1="289" x2="68.9" y2="289" stroke="#222" stroke-width="0.9"/>
<line x1="99.25" y1="286.73" x2="99.25" y2="295.52" stroke="#222" stroke-width="0.9"/>
<line x1="97.35" y1="286.73" x2="101.15" y2="286.73" stroke="#222" stroke-width="0.9"/>
<line x1="97.35" y1="295.52" x2="101.15" y2="295.52" stroke="#222" stroke-width="0.9"/>
<rect x="64.8" y="284.8" width="4.4" height="4.4" fill="#28468e"/>
<rect x="80.8" y="284.8" width="4.4" height="4.4" fill="#28468e"/>
<rect x="97.05" y="288.93" width="4.4" height="4.4" fill="#28468e"/>
<line x1="67" y1="329.77" x2="67" y2="334.98" stroke="#222" stroke-width="0.9"/>
<line x1="65.1" y1="329.77" x2="68.9" y2="329.77" stroke="#222" stroke-width="0.9"/>
<line x1="65.1" y1="334.98" x2="68.9" y2="334.98" stroke="#222" stroke-width="0.9"/>
<line x1="83" y1="333.43" x2="83" y2="341.82" stroke="#222" stroke-width="0.9"/>
<line x1="81.1" y1="333.43" x2="84.9" y2="333.43" stroke="#222" stroke-width="0.9"/>
<line x1="81.1" y1="341.82" x2="84.9" y2="341.82" stroke="#222" stroke-width="0.9"/>
<line x1="99.25" y1="341.38" x2="99.25" y2="347.38" stroke="#222" stroke-width="0.9"/>
<line x1="97.35" y1="341.38" x2="101.15" y2="341.38" stroke="#222" stroke-width="0.9"/>
<line x1="97.35" y1="347.38" x2="101.15" y2="347.38" stroke="#222" stroke-width="0.9"/>
<line x1="67" y1="329.52" x2="67" y2="336.73" stroke="#222" stroke-width="0.9"/>
<line x1="65.1" y1="329.52" x2="68.9" y2="329.52" stroke="#222" stroke-width="0.9"/>
<line x1="65.1" y1="336.73" x2="68.9" y2="336.73" stroke="#222" stroke-width="0.9"/>
<line x1="83" y1="334.48" x2="83" y2="339.27" stroke="#222" stroke-width="0.9"/>
<line x1="81.1" y1="334.48" x2="84.9" y2="334.48" stroke="#222" stroke-width="0.9"/>
<line x1="81.1" y1="339.27" x2="84.9" y2="339.27" stroke="#222" stroke-width="0.9"/>
<line x1="99.25" y1="328.43" x2="99.25" y2="334.82" stroke="#222" stroke-width="0.9"/>
<line x1="97.35" y1="328.43" x2="101.15" y2="328.43" stroke="#222" stroke-width="0.9"/>
<line x1="97.35" y1="334.82" x2="101.15" y2="334.82" stroke="#222" stroke-width="0.9"/>
<polygon points="48.75,280 53.75,280 51.25,275.6" fill="#bc1434" stroke="none"/>
<polygon points="64.5,334.38 69.5,334.38 67,329.98" fill="#bc1434" stroke="none"/>
<circle cx="51.25" cy="278" r="2.1" fill="#5fab3a"/>
<circle cx="67" cy="333.12" r="2.1" fill="#5fab3a"/>
<circle cx="83" cy="336.88" r="2.1" fill="#5fab3a"/>
<circle cx="99.25" cy="331.62" r="2.1" fill="#5fab3a"/>
<polygon points="80.5,339.62 85.5,339.62 83,335.23" fill="#bc1434" stroke="none"/>
<polygon points="96.75,346.38 101.75,346.38 99.25,341.98" fill="#bc1434" stroke="none"/>
<line x1="110" y1="274.4" x2="124" y2="274.4" stroke="#5fab3a" stroke-width="1.2"/>
<circle cx="117" cy="274.4" r="2.1" fill="#5fab3a"/>
<text x="127.1" y="277" font-size="7.2" fill="#1c1c1c" stroke="#1c1c1c" stroke-width="0.08" textLength="11.3" lengthAdjust="spacingAndGlyphs">WT</text>
<line x1="110" y1="285.8" x2="124" y2="285.8" stroke="#28468e" stroke-width="1.2"/>
<rect x="114.8" y="283.6" width="4.4" height="4.4" fill="#28468e"/>
<text x="127.1" y="288.4" font-size="7.2" fill="#1c1c1c" stroke="#1c1c1c" stroke-width="0.08" textLength="30.2" lengthAdjust="spacingAndGlyphs">TNFR2ko</text>
<line x1="110" y1="297.2" x2="124" y2="297.2" stroke="#bc1434" stroke-width="1.2"/>
<polygon points="114.5,299.2 119.5,299.2 117,294.8" fill="#bc1434" stroke="none"/>
<text x="127.1" y="299.8" font-size="7.2" fill="#1c1c1c" stroke="#1c1c1c" stroke-width="0.08" textLength="58.6" lengthAdjust="spacingAndGlyphs">TNFR2ko+TNFR2</text>
<text transform="translate(18.6,311.8) rotate(-90)" font-size="9.6" fill="#262626" text-anchor="middle" font-weight="bold" textLength="33.2" lengthAdjust="spacingAndGlyphs">% live cells</text>
<text x="75.1" y="379.2" font-size="9.8" fill="#262626" text-anchor="middle" font-weight="bold" textLength="46" lengthAdjust="spacingAndGlyphs">Birinapant (nM)</text>
<text x="7.3" y="416.6" font-size="11.8" fill="#000" stroke="#000" stroke-width="0.4" font-weight="bold">F</text>
<polygon points="69.11,493.5 69.11,481.26 81.33,481.26 86.02,492.17 89.56,488.6 91.68,491.46 95.4,477.79 99.03,481.26 101.77,483.81 107.61,492.99 114.52,426.18 120.18,436.38 126.46,430.26 130.09,420.06 132.66,437.4 133.2,493.5" fill="#8d93bb" stroke="none"/>
<polyline points="69.11,481.26 81.33,481.26 86.02,492.17 89.56,488.6 91.68,491.46 95.4,477.79 99.03,481.26 101.77,483.81 107.61,492.99 114.52,426.18 120.18,436.38 126.46,430.26 130.09,420.06 132.66,437.4" fill="none" stroke="#1d4383" stroke-width="1.6" stroke-linejoin="round" stroke-dasharray="3.4,2.0"/>
<polyline points="44.6,493.5 69.11,493.5 74.69,486.56 77.34,478.51 81.33,446.17 83.54,483.1 86.64,492.48 88.85,493.5 120.27,493.5 126.46,490.13 129.12,480.75 130.71,468 132.22,439.44 133.1,430.26" fill="none" stroke="#47105f" stroke-width="1.35" stroke-linejoin="round"/>
<line x1="44.6" y1="408.7" x2="44.6" y2="494" stroke="#1c1c1c" stroke-width="1.1"/>
<line x1="133.2" y1="408.7" x2="133.2" y2="494" stroke="#1c1c1c" stroke-width="1.1"/>
<line x1="44.1" y1="493.5" x2="133.7" y2="493.5" stroke="#1c1c1c" stroke-width="1.1"/>
<line x1="41.4" y1="493.5" x2="44.6" y2="493.5" stroke="#1c1c1c" stroke-width="1.1"/>
<text x="38.4" y="496.5" font-size="8.2" fill="#1c1c1c" stroke="#1c1c1c" stroke-width="0.1" text-anchor="end">0</text>
<line x1="41.4" y1="473.1" x2="44.6" y2="473.1" stroke="#1c1c1c" stroke-width="1.1"/>
<text x="38.4" y="476.1" font-size="8.2" fill="#1c1c1c" stroke="#1c1c1c" stroke-width="0.1" text-anchor="end">20</text>
<line x1="41.4" y1="452.7" x2="44.6" y2="452.7" stroke="#1c1c1c" stroke-width="1.1"/>
<text x="38.4" y="455.7" font-size="8.2" fill="#1c1c1c" stroke="#1c1c1c" stroke-width="0.1" text-anchor="end">40</text>
<line x1="41.4" y1="432.3" x2="44.6" y2="432.3" stroke="#1c1c1c" stroke-width="1.1"/>
<text x="38.4" y="435.3" font-size="8.2" fill="#1c1c1c" stroke="#1c1c1c" stroke-width="0.1" text-anchor="end">60</text>
<line x1="41.4" y1="411.9" x2="44.6" y2="411.9" stroke="#1c1c1c" stroke-width="1.1"/>
<text x="38.4" y="414.9" font-size="8.2" fill="#1c1c1c" stroke="#1c1c1c" stroke-width="0.1" text-anchor="end">80</text>
<line x1="133.2" y1="493.5" x2="136.4" y2="493.5" stroke="#1c1c1c" stroke-width="1.1"/>
<text x="139.8" y="496.5" font-size="8.2" fill="#1c1c1c" stroke="#1c1c1c" stroke-width="0.1">0</text>
<line x1="133.2" y1="473.1" x2="136.4" y2="473.1" stroke="#1c1c1c" stroke-width="1.1"/>
<text x="139.8" y="476.1" font-size="8.2" fill="#1c1c1c" stroke="#1c1c1c" stroke-width="0.1">2</text>
<line x1="133.2" y1="452.7" x2="136.4" y2="452.7" stroke="#1c1c1c" stroke-width="1.1"/>
<text x="139.8" y="455.7" font-size="8.2" fill="#1c1c1c" stroke="#1c1c1c" stroke-width="0.1">4</text>
<line x1="133.2" y1="432.3" x2="136.4" y2="432.3" stroke="#1c1c1c" stroke-width="1.1"/>
<text x="139.8" y="435.3" font-size="8.2" fill="#1c1c1c" stroke="#1c1c1c" stroke-width="0.1">6</text>
<line x1="133.2" y1="411.9" x2="136.4" y2="411.9" stroke="#1c1c1c" stroke-width="1.1"/>
<text x="139.8" y="414.9" font-size="8.2" fill="#1c1c1c" stroke="#1c1c1c" stroke-width="0.1">8</text>
<line x1="44.6" y1="493.5" x2="44.6" y2="496.5" stroke="#1c1c1c" stroke-width="1"/>
<text x="44.6" y="506.8" font-size="8.2" fill="#1c1c1c" stroke="#1c1c1c" stroke-width="0.1" text-anchor="middle">0</text>
<line x1="62.3" y1="493.5" x2="62.3" y2="496.5" stroke="#1c1c1c" stroke-width="1"/>
<text x="62.3" y="506.8" font-size="8.2" fill="#1c1c1c" stroke="#1c1c1c" stroke-width="0.1" text-anchor="middle">20</text>
<line x1="80" y1="493.5" x2="80" y2="496.5" stroke="#1c1c1c" stroke-width="1"/>
<text x="80" y="506.8" font-size="8.2" fill="#1c1c1c" stroke="#1c1c1c" stroke-width="0.1" text-anchor="middle">40</text>
<line x1="97.7" y1="493.5" x2="97.7" y2="496.5" stroke="#1c1c1c" stroke-width="1"/>
<text x="97.7" y="506.8" font-size="8.2" fill="#1c1c1c" stroke="#1c1c1c" stroke-width="0.1" text-anchor="middle">60</text>
<line x1="115.4" y1="493.5" x2="115.4" y2="496.5" stroke="#1c1c1c" stroke-width="1"/>
<text x="115.4" y="506.8" font-size="8.2" fill="#1c1c1c" stroke="#1c1c1c" stroke-width="0.1" text-anchor="middle">80</text>
<line x1="55.3" y1="416.9" x2="70.3" y2="416.9" stroke="#52206e" stroke-width="1.25"/>
<line x1="55.3" y1="428.3" x2="70.3" y2="428.3" stroke="#1d4383" stroke-width="1.4" stroke-dasharray="3.2,2.2"/>
<text x="72.8" y="419.4" font-size="7.1" fill="#1c1c1c" stroke="#1c1c1c" stroke-width="0.06" textLength="38.6" lengthAdjust="spacingAndGlyphs">Engraftment</text>
<text x="72.8" y="430.8" font-size="7.1" fill="#1c1c1c" stroke="#1c1c1c" stroke-width="0.06" textLength="30.3" lengthAdjust="spacingAndGlyphs">TNFR2ko</text>
<text transform="translate(23.8,451.4) rotate(-90)" font-size="9.6" fill="#262626" text-anchor="middle" font-weight="bold" textLength="47.1" lengthAdjust="spacingAndGlyphs">%hCD45/hCD19</text>
<text transform="translate(160.2,450.8) rotate(90)" font-size="9.6" fill="#262626" text-anchor="middle" font-weight="bold" textLength="23" lengthAdjust="spacingAndGlyphs">%BFP+</text>
<text transform="translate(149.8,450.8) rotate(90)" font-size="9.6" fill="#262626" text-anchor="middle" font-weight="bold" textLength="54.3" lengthAdjust="spacingAndGlyphs">(of hCD45/hCD19)</text>
<text x="88.9" y="519.2" font-size="9.4" fill="#262626" text-anchor="middle" font-weight="bold" textLength="10.6" lengthAdjust="spacingAndGlyphs">Day</text>
<line x1="79" y1="510.6" x2="125.5" y2="510.6" stroke="#78bd58" stroke-width="1.5"/>
<polygon points="124,508 129.5,510.6 124,513.2" fill="#519f30" stroke="none"/>
<text x="177.9" y="417" font-size="11.8" fill="#000" stroke="#000" stroke-width="0.4" font-weight="bold">G</text>
<polygon points="248.12,493.9 248.12,493.63 253.45,488.41 258.19,491.15 262.22,491.84 266.84,493.08 272.29,492.53 274.31,491.15 282.84,471.1 287.1,449.4 291.84,428.52 294.92,416.43 303.1,425.22 303.2,493.9" fill="#d3917f" stroke="none"/>
<polyline points="248.12,493.63 253.45,488.41 258.19,491.15 262.22,491.84 266.84,493.08 272.29,492.53 274.31,491.15 282.84,471.1 287.1,449.4 291.84,428.52 294.92,416.43 303.1,425.22" fill="none" stroke="#b8001f" stroke-width="1.6" stroke-linejoin="round" stroke-dasharray="3.4,2.0"/>
<polyline points="214.7,493.9 248.12,493.9 253.45,488.44 258.78,470.96 262.93,461.53 266.6,486.37 272.29,492.49 274.31,493.9 289.83,493.9 295.16,481.73 298.48,450.84 303.34,427.91" fill="none" stroke="#47105f" stroke-width="1.35" stroke-linejoin="round"/>
<line x1="214.7" y1="408.8" x2="214.7" y2="494.4" stroke="#1c1c1c" stroke-width="1.1"/>
<line x1="303.2" y1="408.8" x2="303.2" y2="494.4" stroke="#1c1c1c" stroke-width="1.1"/>
<line x1="214.2" y1="493.9" x2="303.7" y2="493.9" stroke="#1c1c1c" stroke-width="1.1"/>
<line x1="211.5" y1="493.9" x2="214.7" y2="493.9" stroke="#1c1c1c" stroke-width="1.1"/>
<text x="208.5" y="496.9" font-size="8.2" fill="#1c1c1c" stroke="#1c1c1c" stroke-width="0.1" text-anchor="end">0</text>
<line x1="211.5" y1="477.34" x2="214.7" y2="477.34" stroke="#1c1c1c" stroke-width="1.1"/>
<text x="208.5" y="480.34" font-size="8.2" fill="#1c1c1c" stroke="#1c1c1c" stroke-width="0.1" text-anchor="end">20</text>
<line x1="211.5" y1="460.78" x2="214.7" y2="460.78" stroke="#1c1c1c" stroke-width="1.1"/>
<text x="208.5" y="463.78" font-size="8.2" fill="#1c1c1c" stroke="#1c1c1c" stroke-width="0.1" text-anchor="end">40</text>
<line x1="211.5" y1="444.22" x2="214.7" y2="444.22" stroke="#1c1c1c" stroke-width="1.1"/>
<text x="208.5" y="447.22" font-size="8.2" fill="#1c1c1c" stroke="#1c1c1c" stroke-width="0.1" text-anchor="end">60</text>
<line x1="211.5" y1="427.66" x2="214.7" y2="427.66" stroke="#1c1c1c" stroke-width="1.1"/>
<text x="208.5" y="430.66" font-size="8.2" fill="#1c1c1c" stroke="#1c1c1c" stroke-width="0.1" text-anchor="end">80</text>
<line x1="211.5" y1="411.1" x2="214.7" y2="411.1" stroke="#1c1c1c" stroke-width="1.1"/>
<text x="208.5" y="414.1" font-size="8.2" fill="#1c1c1c" stroke="#1c1c1c" stroke-width="0.1" text-anchor="end">100</text>
<line x1="303.2" y1="493.9" x2="306.4" y2="493.9" stroke="#1c1c1c" stroke-width="1.1"/>
<text x="309.8" y="496.9" font-size="8.2" fill="#1c1c1c" stroke="#1c1c1c" stroke-width="0.1">0</text>
<line x1="303.2" y1="466.43" x2="306.4" y2="466.43" stroke="#1c1c1c" stroke-width="1.1"/>
<text x="309.8" y="469.43" font-size="8.2" fill="#1c1c1c" stroke="#1c1c1c" stroke-width="0.1">10</text>
<line x1="303.2" y1="438.96" x2="306.4" y2="438.96" stroke="#1c1c1c" stroke-width="1.1"/>
<text x="309.8" y="441.96" font-size="8.2" fill="#1c1c1c" stroke="#1c1c1c" stroke-width="0.1">20</text>
<line x1="303.2" y1="411.49" x2="306.4" y2="411.49" stroke="#1c1c1c" stroke-width="1.1"/>
<text x="309.8" y="414.49" font-size="8.2" fill="#1c1c1c" stroke="#1c1c1c" stroke-width="0.1">30</text>
<line x1="214.7" y1="493.9" x2="214.7" y2="496.9" stroke="#1c1c1c" stroke-width="1"/>
<text x="214.7" y="507.2" font-size="8.2" fill="#1c1c1c" stroke="#1c1c1c" stroke-width="0.1" text-anchor="middle">0</text>
<line x1="238.4" y1="493.9" x2="238.4" y2="496.9" stroke="#1c1c1c" stroke-width="1"/>
<text x="238.4" y="507.2" font-size="8.2" fill="#1c1c1c" stroke="#1c1c1c" stroke-width="0.1" text-anchor="middle">20</text>
<line x1="262.1" y1="493.9" x2="262.1" y2="496.9" stroke="#1c1c1c" stroke-width="1"/>
<text x="262.1" y="507.2" font-size="8.2" fill="#1c1c1c" stroke="#1c1c1c" stroke-width="0.1" text-anchor="middle">40</text>
<line x1="285.8" y1="493.9" x2="285.8" y2="496.9" stroke="#1c1c1c" stroke-width="1"/>
<text x="285.8" y="507.2" font-size="8.2" fill="#1c1c1c" stroke="#1c1c1c" stroke-width="0.1" text-anchor="middle">60</text>
<line x1="225.4" y1="416.6" x2="240.4" y2="416.6" stroke="#52206e" stroke-width="1.25"/>
<line x1="225.4" y1="428.2" x2="240.4" y2="428.2" stroke="#b8001f" stroke-width="1.4" stroke-dasharray="3.2,2.2"/>
<text x="242.9" y="419.1" font-size="7.1" fill="#1c1c1c" stroke="#1c1c1c" stroke-width="0.06" textLength="38.6" lengthAdjust="spacingAndGlyphs">Engraftment</text>
<text x="242.9" y="430.7" font-size="7.1" fill="#1c1c1c" stroke="#1c1c1c" stroke-width="0.06" textLength="30.3" lengthAdjust="spacingAndGlyphs">TNFR1ko</text>
<text transform="translate(193.8,451.3) rotate(-90)" font-size="9.6" fill="#262626" text-anchor="middle" font-weight="bold" textLength="47.1" lengthAdjust="spacingAndGlyphs">%hCD45/hCD19</text>
<text transform="translate(335.1,451.3) rotate(90)" font-size="9.6" fill="#262626" text-anchor="middle" font-weight="bold" textLength="36.1" lengthAdjust="spacingAndGlyphs">%mCherry+</text>
<text transform="translate(325.2,451.3) rotate(90)" font-size="9.6" fill="#262626" text-anchor="middle" font-weight="bold" textLength="52.3" lengthAdjust="spacingAndGlyphs">(of hCD45/hCD19)</text>
<text x="258.2" y="519.2" font-size="9.4" fill="#262626" text-anchor="middle" font-weight="bold" textLength="10.6" lengthAdjust="spacingAndGlyphs">Day</text>
<line x1="263.5" y1="510.6" x2="298" y2="510.6" stroke="#78bd58" stroke-width="1.5"/>
<polygon points="296.5,508 302,510.6 296.5,513.2" fill="#519f30" stroke="none"/>
<text x="352.3" y="417.2" font-size="11.8" fill="#000" stroke="#000" stroke-width="0.4" font-weight="bold">H</text>
<line x1="394.4" y1="411.8" x2="394.4" y2="494.2" stroke="#1c1c1c" stroke-width="1.1"/>
<line x1="393.9" y1="493.7" x2="457.8" y2="493.7" stroke="#1c1c1c" stroke-width="1.1"/>
<line x1="391.2" y1="493.7" x2="394.4" y2="493.7" stroke="#1c1c1c" stroke-width="1.1"/>
<text x="388.2" y="496.7" font-size="8.2" fill="#1c1c1c" stroke="#1c1c1c" stroke-width="0.1" text-anchor="end">0</text>
<line x1="391.2" y1="456.25" x2="394.4" y2="456.25" stroke="#1c1c1c" stroke-width="1.1"/>
<text x="388.2" y="459.25" font-size="8.2" fill="#1c1c1c" stroke="#1c1c1c" stroke-width="0.1" text-anchor="end">50</text>
<line x1="391.2" y1="418.8" x2="394.4" y2="418.8" stroke="#1c1c1c" stroke-width="1.1"/>
<text x="388.2" y="421.8" font-size="8.2" fill="#1c1c1c" stroke="#1c1c1c" stroke-width="0.1" text-anchor="end">100</text>
<line x1="399.4" y1="493.7" x2="399.4" y2="496.7" stroke="#1c1c1c" stroke-width="1"/>
<text transform="translate(402.2,503.3) rotate(-45)" font-size="8.2" fill="#1c1c1c" stroke="#1c1c1c" stroke-width="0.1" text-anchor="end">0</text>
<line x1="410" y1="493.7" x2="410" y2="496.7" stroke="#1c1c1c" stroke-width="1"/>
<text transform="translate(412.8,503.3) rotate(-45)" font-size="8.2" fill="#1c1c1c" stroke="#1c1c1c" stroke-width="0.1" text-anchor="end">1</text>
<line x1="420.7" y1="493.7" x2="420.7" y2="496.7" stroke="#1c1c1c" stroke-width="1"/>
<text transform="translate(423.5,503.3) rotate(-45)" font-size="8.2" fill="#1c1c1c" stroke="#1c1c1c" stroke-width="0.1" text-anchor="end">10</text>
<line x1="431.2" y1="493.7" x2="431.2" y2="496.7" stroke="#1c1c1c" stroke-width="1"/>
<text transform="translate(434,503.3) rotate(-45)" font-size="8.2" fill="#1c1c1c" stroke="#1c1c1c" stroke-width="0.1" text-anchor="end">100</text>
<line x1="441.8" y1="493.7" x2="441.8" y2="496.7" stroke="#1c1c1c" stroke-width="1"/>
<text transform="translate(444.6,503.3) rotate(-45)" font-size="8.2" fill="#1c1c1c" stroke="#1c1c1c" stroke-width="0.1" text-anchor="end">500</text>
<line x1="452.2" y1="493.7" x2="452.2" y2="496.7" stroke="#1c1c1c" stroke-width="1"/>
<text transform="translate(455,503.3) rotate(-45)" font-size="8.2" fill="#1c1c1c" stroke="#1c1c1c" stroke-width="0.1" text-anchor="end">2,000</text>
<polyline points="399.4,418.8 410,433.41 420.7,451.38 431.2,479.47 441.8,485.61 452.2,488.68" fill="none" stroke="#5fab3a" stroke-width="1.2" stroke-linejoin="round"/>
<line x1="410" y1="430.61" x2="410" y2="436.21" stroke="#222" stroke-width="0.9"/>
<line x1="408.1" y1="430.61" x2="411.9" y2="430.61" stroke="#222" stroke-width="0.9"/>
<line x1="408.1" y1="436.21" x2="411.9" y2="436.21" stroke="#222" stroke-width="0.9"/>
<line x1="420.7" y1="448.38" x2="420.7" y2="454.38" stroke="#222" stroke-width="0.9"/>
<line x1="418.8" y1="448.38" x2="422.6" y2="448.38" stroke="#222" stroke-width="0.9"/>
<line x1="418.8" y1="454.38" x2="422.6" y2="454.38" stroke="#222" stroke-width="0.9"/>
<line x1="431.2" y1="477.87" x2="431.2" y2="481.07" stroke="#222" stroke-width="0.9"/>
<line x1="429.3" y1="477.87" x2="433.1" y2="477.87" stroke="#222" stroke-width="0.9"/>
<line x1="429.3" y1="481.07" x2="433.1" y2="481.07" stroke="#222" stroke-width="0.9"/>
<line x1="441.8" y1="484.41" x2="441.8" y2="486.81" stroke="#222" stroke-width="0.9"/>
<line x1="439.9" y1="484.41" x2="443.7" y2="484.41" stroke="#222" stroke-width="0.9"/>
<line x1="439.9" y1="486.81" x2="443.7" y2="486.81" stroke="#222" stroke-width="0.9"/>
<line x1="452.2" y1="487.68" x2="452.2" y2="489.68" stroke="#222" stroke-width="0.9"/>
<line x1="450.3" y1="487.68" x2="454.1" y2="487.68" stroke="#222" stroke-width="0.9"/>
<line x1="450.3" y1="489.68" x2="454.1" y2="489.68" stroke="#222" stroke-width="0.9"/>
<rect x="397.2" y="416.6" width="4.4" height="4.4" fill="#5fab3a"/>
<rect x="407.8" y="431.21" width="4.4" height="4.4" fill="#5fab3a"/>
<rect x="418.5" y="449.18" width="4.4" height="4.4" fill="#5fab3a"/>
<rect x="429" y="477.27" width="4.4" height="4.4" fill="#5fab3a"/>
<rect x="439.6" y="483.41" width="4.4" height="4.4" fill="#5fab3a"/>
<rect x="450" y="486.48" width="4.4" height="4.4" fill="#5fab3a"/>
<polyline points="399.4,418.8 410,425.17 420.7,424.42 431.2,439.4 441.8,446.14 452.2,456.62" fill="none" stroke="#28468e" stroke-width="1.2" stroke-linejoin="round"/>
<line x1="410" y1="422.17" x2="410" y2="428.17" stroke="#222" stroke-width="0.9"/>
<line x1="408.1" y1="422.17" x2="411.9" y2="422.17" stroke="#222" stroke-width="0.9"/>
<line x1="408.1" y1="428.17" x2="411.9" y2="428.17" stroke="#222" stroke-width="0.9"/>
<line x1="420.7" y1="421.62" x2="420.7" y2="427.22" stroke="#222" stroke-width="0.9"/>
<line x1="418.8" y1="421.62" x2="422.6" y2="421.62" stroke="#222" stroke-width="0.9"/>
<line x1="418.8" y1="427.22" x2="422.6" y2="427.22" stroke="#222" stroke-width="0.9"/>
<line x1="431.2" y1="437.2" x2="431.2" y2="441.6" stroke="#222" stroke-width="0.9"/>
<line x1="429.3" y1="437.2" x2="433.1" y2="437.2" stroke="#222" stroke-width="0.9"/>
<line x1="429.3" y1="441.6" x2="433.1" y2="441.6" stroke="#222" stroke-width="0.9"/>
<line x1="441.8" y1="443.34" x2="441.8" y2="448.94" stroke="#222" stroke-width="0.9"/>
<line x1="439.9" y1="443.34" x2="443.7" y2="443.34" stroke="#222" stroke-width="0.9"/>
<line x1="439.9" y1="448.94" x2="443.7" y2="448.94" stroke="#222" stroke-width="0.9"/>
<polygon points="396.9,416.8 401.9,416.8 399.4,421.2" fill="#28468e" stroke="none"/>
<polygon points="407.5,423.17 412.5,423.17 410,427.57" fill="#28468e" stroke="none"/>
<polygon points="418.2,422.42 423.2,422.42 420.7,426.82" fill="#28468e" stroke="none"/>
<polygon points="428.7,437.4 433.7,437.4 431.2,441.8" fill="#28468e" stroke="none"/>
<polygon points="439.3,444.14 444.3,444.14 441.8,448.54" fill="#28468e" stroke="none"/>
<polygon points="449.7,454.62 454.7,454.62 452.2,459.02" fill="#28468e" stroke="none"/>
<polyline points="399.4,418.8 410,417.68 420.7,428.16 431.2,446.14 441.8,457.37 452.2,471.6" fill="none" stroke="#bc1434" stroke-width="1.2" stroke-linejoin="round"/>
<line x1="410" y1="412.88" x2="410" y2="422.48" stroke="#222" stroke-width="0.9"/>
<line x1="408.1" y1="412.88" x2="411.9" y2="412.88" stroke="#222" stroke-width="0.9"/>
<line x1="408.1" y1="422.48" x2="411.9" y2="422.48" stroke="#222" stroke-width="0.9"/>
<line x1="420.7" y1="426.16" x2="420.7" y2="430.16" stroke="#222" stroke-width="0.9"/>
<line x1="418.8" y1="426.16" x2="422.6" y2="426.16" stroke="#222" stroke-width="0.9"/>
<line x1="418.8" y1="430.16" x2="422.6" y2="430.16" stroke="#222" stroke-width="0.9"/>
<line x1="431.2" y1="441.34" x2="431.2" y2="450.94" stroke="#222" stroke-width="0.9"/>
<line x1="429.3" y1="441.34" x2="433.1" y2="441.34" stroke="#222" stroke-width="0.9"/>
<line x1="429.3" y1="450.94" x2="433.1" y2="450.94" stroke="#222" stroke-width="0.9"/>
<line x1="441.8" y1="452.87" x2="441.8" y2="461.87" stroke="#222" stroke-width="0.9"/>
<line x1="439.9" y1="452.87" x2="443.7" y2="452.87" stroke="#222" stroke-width="0.9"/>
<line x1="439.9" y1="461.87" x2="443.7" y2="461.87" stroke="#222" stroke-width="0.9"/>
<line x1="452.2" y1="468.2" x2="452.2" y2="475" stroke="#222" stroke-width="0.9"/>
<line x1="450.3" y1="468.2" x2="454.1" y2="468.2" stroke="#222" stroke-width="0.9"/>
<line x1="450.3" y1="475" x2="454.1" y2="475" stroke="#222" stroke-width="0.9"/>
<polygon points="396.9,420.8 401.9,420.8 399.4,416.4" fill="#bc1434" stroke="none"/>
<polygon points="407.5,419.68 412.5,419.68 410,415.28" fill="#bc1434" stroke="none"/>
<polygon points="418.2,430.16 423.2,430.16 420.7,425.76" fill="#bc1434" stroke="none"/>
<polygon points="428.7,448.14 433.7,448.14 431.2,443.74" fill="#bc1434" stroke="none"/>
<polygon points="439.3,459.37 444.3,459.37 441.8,454.97" fill="#bc1434" stroke="none"/>
<polygon points="449.7,473.6 454.7,473.6 452.2,469.2" fill="#bc1434" stroke="none"/>
<line x1="460.5" y1="415.5" x2="474.5" y2="415.5" stroke="#5fab3a" stroke-width="1.2"/>
<rect x="465.3" y="413.3" width="4.4" height="4.4" fill="#5fab3a"/>
<text x="477.6" y="418.1" font-size="7.2" fill="#1c1c1c" stroke="#1c1c1c" stroke-width="0.08" textLength="11.3" lengthAdjust="spacingAndGlyphs">WT</text>
<line x1="460.5" y1="426.8" x2="474.5" y2="426.8" stroke="#28468e" stroke-width="1.2"/>
<polygon points="465,424.8 470,424.8 467.5,429.2" fill="#28468e" stroke="none"/>
<text x="477.6" y="429.4" font-size="7.2" fill="#1c1c1c" stroke="#1c1c1c" stroke-width="0.08" textLength="30.2" lengthAdjust="spacingAndGlyphs">TNFR2ko</text>
<line x1="460.5" y1="438.1" x2="474.5" y2="438.1" stroke="#bc1434" stroke-width="1.2"/>
<polygon points="465,440.1 470,440.1 467.5,435.7" fill="#bc1434" stroke="none"/>
<text x="477.6" y="440.7" font-size="7.2" fill="#1c1c1c" stroke="#1c1c1c" stroke-width="0.08" textLength="30.2" lengthAdjust="spacingAndGlyphs">TNFR1ko</text>
<text transform="translate(369.2,452.8) rotate(-90)" font-size="9.6" fill="#262626" text-anchor="middle" font-weight="bold" textLength="34" lengthAdjust="spacingAndGlyphs">% live cells</text>
<text x="426" y="530.5" font-size="9.8" fill="#262626" text-anchor="middle" font-weight="bold" textLength="45.3" lengthAdjust="spacingAndGlyphs">Birinapant (nM)</text>
<text x="9" y="566.6" font-size="11.8" fill="#000" stroke="#000" stroke-width="0.4" font-weight="bold">I</text>
<polygon points="77.37,643.5 77.37,638.92 80.85,638.92 84.33,635.98 87.69,638.92 90.42,640.23 94.77,634.34 98.13,622.9 101.61,633.69 105.09,623.88 107.36,583 108.11,575.81 110.31,595.1 114.49,581.37 118.26,599.36 123.36,614.72 126.84,622.9 129.28,609.49 132.47,626.17 133.2,643.5" fill="#8d93bb" stroke="none"/>
<polyline points="77.37,638.92 80.85,638.92 84.33,635.98 87.69,638.92 90.42,640.23 94.77,634.34 98.13,622.9 101.61,633.69 105.09,623.88 107.36,583 108.11,575.81 110.31,595.1 114.49,581.37 118.26,599.36 123.36,614.72 126.84,622.9 129.28,609.49 132.47,626.17" fill="none" stroke="#1d4383" stroke-width="1.6" stroke-linejoin="round" stroke-dasharray="3.4,2.0"/>
<polyline points="44.6,643.5 77.37,634.39 84.33,600.66 87.69,638.88 92.33,642.82 95.64,643.5 114.78,643.5 120.81,636.56 125.51,624.46 129.51,587.06 132.76,576.45" fill="none" stroke="#47105f" stroke-width="1.35" stroke-linejoin="round"/>
<line x1="44.6" y1="558.7" x2="44.6" y2="644" stroke="#1c1c1c" stroke-width="1.1"/>
<line x1="133.2" y1="558.7" x2="133.2" y2="644" stroke="#1c1c1c" stroke-width="1.1"/>
<line x1="44.1" y1="643.5" x2="133.7" y2="643.5" stroke="#1c1c1c" stroke-width="1.1"/>
<line x1="41.4" y1="643.5" x2="44.6" y2="643.5" stroke="#1c1c1c" stroke-width="1.1"/>
<text x="38.4" y="646.5" font-size="8.2" fill="#1c1c1c" stroke="#1c1c1c" stroke-width="0.1" text-anchor="end">0</text>
<line x1="41.4" y1="616.3" x2="44.6" y2="616.3" stroke="#1c1c1c" stroke-width="1.1"/>
<text x="38.4" y="619.3" font-size="8.2" fill="#1c1c1c" stroke="#1c1c1c" stroke-width="0.1" text-anchor="end">20</text>
<line x1="41.4" y1="589.1" x2="44.6" y2="589.1" stroke="#1c1c1c" stroke-width="1.1"/>
<text x="38.4" y="592.1" font-size="8.2" fill="#1c1c1c" stroke="#1c1c1c" stroke-width="0.1" text-anchor="end">40</text>
<line x1="41.4" y1="561.9" x2="44.6" y2="561.9" stroke="#1c1c1c" stroke-width="1.1"/>
<text x="38.4" y="564.9" font-size="8.2" fill="#1c1c1c" stroke="#1c1c1c" stroke-width="0.1" text-anchor="end">60</text>
<line x1="133.2" y1="643.5" x2="136.4" y2="643.5" stroke="#1c1c1c" stroke-width="1.1"/>
<text x="139.8" y="646.5" font-size="8.2" fill="#1c1c1c" stroke="#1c1c1c" stroke-width="0.1">0</text>
<line x1="133.2" y1="627.15" x2="136.4" y2="627.15" stroke="#1c1c1c" stroke-width="1.1"/>
<text x="139.8" y="630.15" font-size="8.2" fill="#1c1c1c" stroke="#1c1c1c" stroke-width="0.1">5</text>
<line x1="133.2" y1="610.8" x2="136.4" y2="610.8" stroke="#1c1c1c" stroke-width="1.1"/>
<text x="139.8" y="613.8" font-size="8.2" fill="#1c1c1c" stroke="#1c1c1c" stroke-width="0.1">10</text>
<line x1="133.2" y1="594.45" x2="136.4" y2="594.45" stroke="#1c1c1c" stroke-width="1.1"/>
<text x="139.8" y="597.45" font-size="8.2" fill="#1c1c1c" stroke="#1c1c1c" stroke-width="0.1">15</text>
<line x1="133.2" y1="578.1" x2="136.4" y2="578.1" stroke="#1c1c1c" stroke-width="1.1"/>
<text x="139.8" y="581.1" font-size="8.2" fill="#1c1c1c" stroke="#1c1c1c" stroke-width="0.1">20</text>
<line x1="133.2" y1="561.75" x2="136.4" y2="561.75" stroke="#1c1c1c" stroke-width="1.1"/>
<text x="139.8" y="564.75" font-size="8.2" fill="#1c1c1c" stroke="#1c1c1c" stroke-width="0.1">25</text>
<line x1="44.6" y1="643.5" x2="44.6" y2="646.5" stroke="#1c1c1c" stroke-width="1"/>
<text transform="translate(47.2,652.7) rotate(-45)" font-size="8.2" fill="#1c1c1c" stroke="#1c1c1c" stroke-width="0.1" text-anchor="end">0</text>
<line x1="56.2" y1="643.5" x2="56.2" y2="646.5" stroke="#1c1c1c" stroke-width="1"/>
<text transform="translate(58.8,652.7) rotate(-45)" font-size="8.2" fill="#1c1c1c" stroke="#1c1c1c" stroke-width="0.1" text-anchor="end">20</text>
<line x1="67.8" y1="643.5" x2="67.8" y2="646.5" stroke="#1c1c1c" stroke-width="1"/>
<text transform="translate(70.4,652.7) rotate(-45)" font-size="8.2" fill="#1c1c1c" stroke="#1c1c1c" stroke-width="0.1" text-anchor="end">40</text>
<line x1="79.4" y1="643.5" x2="79.4" y2="646.5" stroke="#1c1c1c" stroke-width="1"/>
<text transform="translate(82,652.7) rotate(-45)" font-size="8.2" fill="#1c1c1c" stroke="#1c1c1c" stroke-width="0.1" text-anchor="end">60</text>
<line x1="91" y1="643.5" x2="91" y2="646.5" stroke="#1c1c1c" stroke-width="1"/>
<text transform="translate(93.6,652.7) rotate(-45)" font-size="8.2" fill="#1c1c1c" stroke="#1c1c1c" stroke-width="0.1" text-anchor="end">80</text>
<line x1="102.6" y1="643.5" x2="102.6" y2="646.5" stroke="#1c1c1c" stroke-width="1"/>
<text transform="translate(105.2,652.7) rotate(-45)" font-size="8.2" fill="#1c1c1c" stroke="#1c1c1c" stroke-width="0.1" text-anchor="end">100</text>
<line x1="114.2" y1="643.5" x2="114.2" y2="646.5" stroke="#1c1c1c" stroke-width="1"/>
<text transform="translate(116.8,652.7) rotate(-45)" font-size="8.2" fill="#1c1c1c" stroke="#1c1c1c" stroke-width="0.1" text-anchor="end">120</text>
<line x1="125.8" y1="643.5" x2="125.8" y2="646.5" stroke="#1c1c1c" stroke-width="1"/>
<text transform="translate(128.4,652.7) rotate(-45)" font-size="8.2" fill="#1c1c1c" stroke="#1c1c1c" stroke-width="0.1" text-anchor="end">140</text>
<line x1="55.3" y1="566.9" x2="70.3" y2="566.9" stroke="#52206e" stroke-width="1.25"/>
<line x1="55.3" y1="578.3" x2="70.3" y2="578.3" stroke="#1d4383" stroke-width="1.4" stroke-dasharray="3.2,2.2"/>
<text x="72.8" y="569.4" font-size="7.1" fill="#1c1c1c" stroke="#1c1c1c" stroke-width="0.06" textLength="38.6" lengthAdjust="spacingAndGlyphs">Engraftment</text>
<text x="72.8" y="580.8" font-size="7.1" fill="#1c1c1c" stroke="#1c1c1c" stroke-width="0.06" textLength="30.3" lengthAdjust="spacingAndGlyphs">TNFR2ko</text>
<text transform="translate(23.9,601.4) rotate(-90)" font-size="9.6" fill="#262626" text-anchor="middle" font-weight="bold" textLength="48.8" lengthAdjust="spacingAndGlyphs">% hCD45/hCD19</text>
<text transform="translate(165.2,601.4) rotate(90)" font-size="9.6" fill="#262626" text-anchor="middle" font-weight="bold" textLength="23" lengthAdjust="spacingAndGlyphs">%BFP+</text>
<text transform="translate(154.8,601.4) rotate(90)" font-size="9.6" fill="#262626" text-anchor="middle" font-weight="bold" textLength="54.3" lengthAdjust="spacingAndGlyphs">(of hCD45/hCD19)</text>
<text x="88.9" y="675" font-size="9.4" fill="#262626" text-anchor="middle" font-weight="bold" textLength="10.6" lengthAdjust="spacingAndGlyphs">Day</text>
<line x1="83" y1="664.5" x2="128.5" y2="664.5" stroke="#78bd58" stroke-width="1.5"/>
<polygon points="127,661.9 132.5,664.5 127,667.1" fill="#519f30" stroke="none"/>
<text x="184.1" y="567" font-size="11.8" fill="#000" stroke="#000" stroke-width="0.4" font-weight="bold" textLength="4.2" lengthAdjust="spacingAndGlyphs">J</text>
<polygon points="264.64,643.2 264.64,637.87 268.54,637.87 273.22,639.51 278.29,634.18 283.52,629.06 286.32,635.41 291.63,619.42 293.89,618.19 297.4,616.55 299.97,601.38 301.92,589.29 303.64,583.75 305.82,590.72 307.85,581.7 308,643.2" fill="#d3917f" stroke="none"/>
<polyline points="264.64,637.87 268.54,637.87 273.22,639.51 278.29,634.18 283.52,629.06 286.32,635.41 291.63,619.42 293.89,618.19 297.4,616.55 299.97,601.38 301.92,589.29 303.64,583.75 305.82,590.72 307.85,581.7" fill="none" stroke="#b8001f" stroke-width="1.6" stroke-linejoin="round" stroke-dasharray="3.4,2.0"/>
<polyline points="219.4,643.2 264.02,637.78 269.87,628.59 272.83,604.61 276.73,616.11 280.86,640.41 284.06,642.38 291,635.98 295.61,619.39 297.56,596.07 299.19,588.19 301.69,582.77 303.25,574.89 306.21,582.61 308.32,574.24" fill="none" stroke="#47105f" stroke-width="1.35" stroke-linejoin="round"/>
<line x1="219.4" y1="558.8" x2="219.4" y2="643.7" stroke="#1c1c1c" stroke-width="1.1"/>
<line x1="308" y1="558.8" x2="308" y2="643.7" stroke="#1c1c1c" stroke-width="1.1"/>
<line x1="218.9" y1="643.2" x2="308.5" y2="643.2" stroke="#1c1c1c" stroke-width="1.1"/>
<line x1="216.2" y1="643.2" x2="219.4" y2="643.2" stroke="#1c1c1c" stroke-width="1.1"/>
<text x="213.2" y="646.2" font-size="8.2" fill="#1c1c1c" stroke="#1c1c1c" stroke-width="0.1" text-anchor="end">0</text>
<line x1="216.2" y1="626.78" x2="219.4" y2="626.78" stroke="#1c1c1c" stroke-width="1.1"/>
<text x="213.2" y="629.78" font-size="8.2" fill="#1c1c1c" stroke="#1c1c1c" stroke-width="0.1" text-anchor="end">10</text>
<line x1="216.2" y1="610.36" x2="219.4" y2="610.36" stroke="#1c1c1c" stroke-width="1.1"/>
<text x="213.2" y="613.36" font-size="8.2" fill="#1c1c1c" stroke="#1c1c1c" stroke-width="0.1" text-anchor="end">20</text>
<line x1="216.2" y1="593.94" x2="219.4" y2="593.94" stroke="#1c1c1c" stroke-width="1.1"/>
<text x="213.2" y="596.94" font-size="8.2" fill="#1c1c1c" stroke="#1c1c1c" stroke-width="0.1" text-anchor="end">30</text>
<line x1="216.2" y1="577.52" x2="219.4" y2="577.52" stroke="#1c1c1c" stroke-width="1.1"/>
<text x="213.2" y="580.52" font-size="8.2" fill="#1c1c1c" stroke="#1c1c1c" stroke-width="0.1" text-anchor="end">40</text>
<line x1="216.2" y1="561.1" x2="219.4" y2="561.1" stroke="#1c1c1c" stroke-width="1.1"/>
<text x="213.2" y="564.1" font-size="8.2" fill="#1c1c1c" stroke="#1c1c1c" stroke-width="0.1" text-anchor="end">50</text>
<line x1="308" y1="643.2" x2="311.2" y2="643.2" stroke="#1c1c1c" stroke-width="1.1"/>
<text x="314.6" y="646.2" font-size="8.2" fill="#1c1c1c" stroke="#1c1c1c" stroke-width="0.1">0</text>
<line x1="308" y1="622.7" x2="311.2" y2="622.7" stroke="#1c1c1c" stroke-width="1.1"/>
<text x="314.6" y="625.7" font-size="8.2" fill="#1c1c1c" stroke="#1c1c1c" stroke-width="0.1">10</text>
<line x1="308" y1="602.2" x2="311.2" y2="602.2" stroke="#1c1c1c" stroke-width="1.1"/>
<text x="314.6" y="605.2" font-size="8.2" fill="#1c1c1c" stroke="#1c1c1c" stroke-width="0.1">20</text>
<line x1="308" y1="581.7" x2="311.2" y2="581.7" stroke="#1c1c1c" stroke-width="1.1"/>
<text x="314.6" y="584.7" font-size="8.2" fill="#1c1c1c" stroke="#1c1c1c" stroke-width="0.1">30</text>
<line x1="308" y1="561.2" x2="311.2" y2="561.2" stroke="#1c1c1c" stroke-width="1.1"/>
<text x="314.6" y="564.2" font-size="8.2" fill="#1c1c1c" stroke="#1c1c1c" stroke-width="0.1">40</text>
<line x1="219.4" y1="643.2" x2="219.4" y2="646.2" stroke="#1c1c1c" stroke-width="1"/>
<text x="219.4" y="656.5" font-size="8.2" fill="#1c1c1c" stroke="#1c1c1c" stroke-width="0.1" text-anchor="middle">0</text>
<line x1="235" y1="643.2" x2="235" y2="646.2" stroke="#1c1c1c" stroke-width="1"/>
<text x="235" y="656.5" font-size="8.2" fill="#1c1c1c" stroke="#1c1c1c" stroke-width="0.1" text-anchor="middle">20</text>
<line x1="250.6" y1="643.2" x2="250.6" y2="646.2" stroke="#1c1c1c" stroke-width="1"/>
<text x="250.6" y="656.5" font-size="8.2" fill="#1c1c1c" stroke="#1c1c1c" stroke-width="0.1" text-anchor="middle">40</text>
<line x1="266.2" y1="643.2" x2="266.2" y2="646.2" stroke="#1c1c1c" stroke-width="1"/>
<text x="266.2" y="656.5" font-size="8.2" fill="#1c1c1c" stroke="#1c1c1c" stroke-width="0.1" text-anchor="middle">60</text>
<line x1="281.8" y1="643.2" x2="281.8" y2="646.2" stroke="#1c1c1c" stroke-width="1"/>
<text x="281.8" y="656.5" font-size="8.2" fill="#1c1c1c" stroke="#1c1c1c" stroke-width="0.1" text-anchor="middle">80</text>
<line x1="297.4" y1="643.2" x2="297.4" y2="646.2" stroke="#1c1c1c" stroke-width="1"/>
<text x="297.4" y="656.5" font-size="8.2" fill="#1c1c1c" stroke="#1c1c1c" stroke-width="0.1" text-anchor="middle">100</text>
<line x1="230.5" y1="566.6" x2="245.5" y2="566.6" stroke="#52206e" stroke-width="1.25"/>
<line x1="230.5" y1="578.2" x2="245.5" y2="578.2" stroke="#b8001f" stroke-width="1.4" stroke-dasharray="3.2,2.2"/>
<text x="248" y="569.1" font-size="7.1" fill="#1c1c1c" stroke="#1c1c1c" stroke-width="0.06" textLength="38.6" lengthAdjust="spacingAndGlyphs">Engraftment</text>
<text x="248" y="580.7" font-size="7.1" fill="#1c1c1c" stroke="#1c1c1c" stroke-width="0.06" textLength="30.3" lengthAdjust="spacingAndGlyphs">TNFR1ko</text>
<text transform="translate(198.6,601) rotate(-90)" font-size="9.6" fill="#262626" text-anchor="middle" font-weight="bold" textLength="48.9" lengthAdjust="spacingAndGlyphs">% hCD45/hCD19</text>
<text transform="translate(339.9,601) rotate(90)" font-size="9.6" fill="#262626" text-anchor="middle" font-weight="bold" textLength="36.1" lengthAdjust="spacingAndGlyphs">%mCherry+</text>
<text transform="translate(329.5,601) rotate(90)" font-size="9.6" fill="#262626" text-anchor="middle" font-weight="bold" textLength="52.3" lengthAdjust="spacingAndGlyphs">(of hCD45/hCD19)</text>
<text x="263.7" y="669.5" font-size="9.4" fill="#262626" text-anchor="middle" font-weight="bold" textLength="10.6" lengthAdjust="spacingAndGlyphs">Day</text>
<line x1="273.5" y1="660.5" x2="302.4" y2="660.5" stroke="#78bd58" stroke-width="1.5"/>
<polygon points="300.9,657.9 306.4,660.5 300.9,663.1" fill="#519f30" stroke="none"/>
<text x="357.4" y="566.8" font-size="11.8" fill="#000" stroke="#000" stroke-width="0.4" font-weight="bold">K</text>
<line x1="398.8" y1="561.6" x2="398.8" y2="644.2" stroke="#1c1c1c" stroke-width="1.1"/>
<line x1="398.3" y1="643.7" x2="462.2" y2="643.7" stroke="#1c1c1c" stroke-width="1.1"/>
<line x1="395.6" y1="643.7" x2="398.8" y2="643.7" stroke="#1c1c1c" stroke-width="1.1"/>
<text x="392.6" y="646.7" font-size="8.2" fill="#1c1c1c" stroke="#1c1c1c" stroke-width="0.1" text-anchor="end">0</text>
<line x1="395.6" y1="606.2" x2="398.8" y2="606.2" stroke="#1c1c1c" stroke-width="1.1"/>
<text x="392.6" y="609.2" font-size="8.2" fill="#1c1c1c" stroke="#1c1c1c" stroke-width="0.1" text-anchor="end">50</text>
<line x1="395.6" y1="568.7" x2="398.8" y2="568.7" stroke="#1c1c1c" stroke-width="1.1"/>
<text x="392.6" y="571.7" font-size="8.2" fill="#1c1c1c" stroke="#1c1c1c" stroke-width="0.1" text-anchor="end">100</text>
<line x1="404.2" y1="643.7" x2="404.2" y2="646.7" stroke="#1c1c1c" stroke-width="1"/>
<text transform="translate(407,653.3) rotate(-45)" font-size="8.2" fill="#1c1c1c" stroke="#1c1c1c" stroke-width="0.1" text-anchor="end">0</text>
<line x1="414.6" y1="643.7" x2="414.6" y2="646.7" stroke="#1c1c1c" stroke-width="1"/>
<text transform="translate(417.4,653.3) rotate(-45)" font-size="8.2" fill="#1c1c1c" stroke="#1c1c1c" stroke-width="0.1" text-anchor="end">1</text>
<line x1="425.4" y1="643.7" x2="425.4" y2="646.7" stroke="#1c1c1c" stroke-width="1"/>
<text transform="translate(428.2,653.3) rotate(-45)" font-size="8.2" fill="#1c1c1c" stroke="#1c1c1c" stroke-width="0.1" text-anchor="end">10</text>
<line x1="435.8" y1="643.7" x2="435.8" y2="646.7" stroke="#1c1c1c" stroke-width="1"/>
<text transform="translate(438.6,653.3) rotate(-45)" font-size="8.2" fill="#1c1c1c" stroke="#1c1c1c" stroke-width="0.1" text-anchor="end">100</text>
<line x1="446.6" y1="643.7" x2="446.6" y2="646.7" stroke="#1c1c1c" stroke-width="1"/>
<text transform="translate(449.4,653.3) rotate(-45)" font-size="8.2" fill="#1c1c1c" stroke="#1c1c1c" stroke-width="0.1" text-anchor="end">500</text>
<line x1="456.9" y1="643.7" x2="456.9" y2="646.7" stroke="#1c1c1c" stroke-width="1"/>
<text transform="translate(459.7,653.3) rotate(-45)" font-size="8.2" fill="#1c1c1c" stroke="#1c1c1c" stroke-width="0.1" text-anchor="end">2,000</text>
<polyline points="404.2,572.45 414.6,584.08 425.4,600.58 435.8,622.7 446.6,627.95 456.9,625.7" fill="none" stroke="#5fab3a" stroke-width="1.2" stroke-linejoin="round"/>
<line x1="414.6" y1="580.78" x2="414.6" y2="587.38" stroke="#222" stroke-width="0.9"/>
<line x1="412.7" y1="580.78" x2="416.5" y2="580.78" stroke="#222" stroke-width="0.9"/>
<line x1="412.7" y1="587.38" x2="416.5" y2="587.38" stroke="#222" stroke-width="0.9"/>
<line x1="425.4" y1="597.48" x2="425.4" y2="603.68" stroke="#222" stroke-width="0.9"/>
<line x1="423.5" y1="597.48" x2="427.3" y2="597.48" stroke="#222" stroke-width="0.9"/>
<line x1="423.5" y1="603.68" x2="427.3" y2="603.68" stroke="#222" stroke-width="0.9"/>
<line x1="456.9" y1="623.2" x2="456.9" y2="628.2" stroke="#222" stroke-width="0.9"/>
<line x1="455" y1="623.2" x2="458.8" y2="623.2" stroke="#222" stroke-width="0.9"/>
<line x1="455" y1="628.2" x2="458.8" y2="628.2" stroke="#222" stroke-width="0.9"/>
<rect x="402" y="570.25" width="4.4" height="4.4" fill="#5fab3a"/>
<rect x="412.4" y="581.88" width="4.4" height="4.4" fill="#5fab3a"/>
<rect x="423.2" y="598.38" width="4.4" height="4.4" fill="#5fab3a"/>
<rect x="433.6" y="620.5" width="4.4" height="4.4" fill="#5fab3a"/>
<rect x="444.4" y="625.75" width="4.4" height="4.4" fill="#5fab3a"/>
<rect x="454.7" y="623.5" width="4.4" height="4.4" fill="#5fab3a"/>
<polyline points="404.2,568.7 414.6,566.45 425.4,571.7 435.8,582.58 446.6,596.45 456.9,598.7" fill="none" stroke="#28468e" stroke-width="1.2" stroke-linejoin="round"/>
<line x1="414.6" y1="563.05" x2="414.6" y2="569.85" stroke="#222" stroke-width="0.9"/>
<line x1="412.7" y1="563.05" x2="416.5" y2="563.05" stroke="#222" stroke-width="0.9"/>
<line x1="412.7" y1="569.85" x2="416.5" y2="569.85" stroke="#222" stroke-width="0.9"/>
<line x1="425.4" y1="567.5" x2="425.4" y2="575.9" stroke="#222" stroke-width="0.9"/>
<line x1="423.5" y1="567.5" x2="427.3" y2="567.5" stroke="#222" stroke-width="0.9"/>
<line x1="423.5" y1="575.9" x2="427.3" y2="575.9" stroke="#222" stroke-width="0.9"/>
<line x1="435.8" y1="579.58" x2="435.8" y2="585.58" stroke="#222" stroke-width="0.9"/>
<line x1="433.9" y1="579.58" x2="437.7" y2="579.58" stroke="#222" stroke-width="0.9"/>
<line x1="433.9" y1="585.58" x2="437.7" y2="585.58" stroke="#222" stroke-width="0.9"/>
<line x1="446.6" y1="592.25" x2="446.6" y2="600.65" stroke="#222" stroke-width="0.9"/>
<line x1="444.7" y1="592.25" x2="448.5" y2="592.25" stroke="#222" stroke-width="0.9"/>
<line x1="444.7" y1="600.65" x2="448.5" y2="600.65" stroke="#222" stroke-width="0.9"/>
<line x1="456.9" y1="595.7" x2="456.9" y2="601.7" stroke="#222" stroke-width="0.9"/>
<line x1="455" y1="595.7" x2="458.8" y2="595.7" stroke="#222" stroke-width="0.9"/>
<line x1="455" y1="601.7" x2="458.8" y2="601.7" stroke="#222" stroke-width="0.9"/>
<polygon points="401.7,566.7 406.7,566.7 404.2,571.1" fill="#28468e" stroke="none"/>
<polygon points="412.1,564.45 417.1,564.45 414.6,568.85" fill="#28468e" stroke="none"/>
<polygon points="422.9,569.7 427.9,569.7 425.4,574.1" fill="#28468e" stroke="none"/>
<polygon points="433.3,580.58 438.3,580.58 435.8,584.98" fill="#28468e" stroke="none"/>
<polygon points="444.1,594.45 449.1,594.45 446.6,598.85" fill="#28468e" stroke="none"/>
<polygon points="454.4,596.7 459.4,596.7 456.9,601.1" fill="#28468e" stroke="none"/>
<polyline points="404.2,569.83 414.6,573.95 425.4,572.08 435.8,578.08 446.6,579.2 456.9,594.95" fill="none" stroke="#bc1434" stroke-width="1.2" stroke-linejoin="round"/>
<line x1="414.6" y1="570.95" x2="414.6" y2="576.95" stroke="#222" stroke-width="0.9"/>
<line x1="412.7" y1="570.95" x2="416.5" y2="570.95" stroke="#222" stroke-width="0.9"/>
<line x1="412.7" y1="576.95" x2="416.5" y2="576.95" stroke="#222" stroke-width="0.9"/>
<line x1="425.4" y1="569.08" x2="425.4" y2="575.08" stroke="#222" stroke-width="0.9"/>
<line x1="423.5" y1="569.08" x2="427.3" y2="569.08" stroke="#222" stroke-width="0.9"/>
<line x1="423.5" y1="575.08" x2="427.3" y2="575.08" stroke="#222" stroke-width="0.9"/>
<line x1="435.8" y1="571.88" x2="435.8" y2="584.28" stroke="#222" stroke-width="0.9"/>
<line x1="433.9" y1="571.88" x2="437.7" y2="571.88" stroke="#222" stroke-width="0.9"/>
<line x1="433.9" y1="584.28" x2="437.7" y2="584.28" stroke="#222" stroke-width="0.9"/>
<line x1="446.6" y1="575" x2="446.6" y2="583.4" stroke="#222" stroke-width="0.9"/>
<line x1="444.7" y1="575" x2="448.5" y2="575" stroke="#222" stroke-width="0.9"/>
<line x1="444.7" y1="583.4" x2="448.5" y2="583.4" stroke="#222" stroke-width="0.9"/>
<line x1="456.9" y1="591.35" x2="456.9" y2="598.55" stroke="#222" stroke-width="0.9"/>
<line x1="455" y1="591.35" x2="458.8" y2="591.35" stroke="#222" stroke-width="0.9"/>
<line x1="455" y1="598.55" x2="458.8" y2="598.55" stroke="#222" stroke-width="0.9"/>
<polygon points="401.7,571.83 406.7,571.83 404.2,567.43" fill="#bc1434" stroke="none"/>
<polygon points="412.1,575.95 417.1,575.95 414.6,571.55" fill="#bc1434" stroke="none"/>
<polygon points="422.9,574.08 427.9,574.08 425.4,569.68" fill="#bc1434" stroke="none"/>
<polygon points="433.3,580.08 438.3,580.08 435.8,575.68" fill="#bc1434" stroke="none"/>
<polygon points="444.1,581.2 449.1,581.2 446.6,576.8" fill="#bc1434" stroke="none"/>
<polygon points="454.4,596.95 459.4,596.95 456.9,592.55" fill="#bc1434" stroke="none"/>
<line x1="465.2" y1="565.4" x2="479.2" y2="565.4" stroke="#5fab3a" stroke-width="1.2"/>
<rect x="470" y="563.2" width="4.4" height="4.4" fill="#5fab3a"/>
<text x="482.3" y="568" font-size="7.2" fill="#1c1c1c" stroke="#1c1c1c" stroke-width="0.08" textLength="11.3" lengthAdjust="spacingAndGlyphs">WT</text>
<line x1="465.2" y1="576.5" x2="479.2" y2="576.5" stroke="#28468e" stroke-width="1.2"/>
<polygon points="469.7,574.5 474.7,574.5 472.2,578.9" fill="#28468e" stroke="none"/>
<text x="482.3" y="579.1" font-size="7.2" fill="#1c1c1c" stroke="#1c1c1c" stroke-width="0.08" textLength="30.2" lengthAdjust="spacingAndGlyphs">TNFR2ko</text>
<line x1="465.2" y1="587.7" x2="479.2" y2="587.7" stroke="#bc1434" stroke-width="1.2"/>
<polygon points="469.7,589.7 474.7,589.7 472.2,585.3" fill="#bc1434" stroke="none"/>
<text x="482.3" y="590.3" font-size="7.2" fill="#1c1c1c" stroke="#1c1c1c" stroke-width="0.08" textLength="30.2" lengthAdjust="spacingAndGlyphs">TNFR1ko</text>
<text transform="translate(373.8,602.2) rotate(-90)" font-size="9.6" fill="#262626" text-anchor="middle" font-weight="bold" textLength="32.8" lengthAdjust="spacingAndGlyphs">% live cells</text>
<text x="430.6" y="680.3" font-size="9.8" fill="#262626" text-anchor="middle" font-weight="bold" textLength="45.3" lengthAdjust="spacingAndGlyphs">Birinapant (nM)</text>
</svg>
</body></html>
